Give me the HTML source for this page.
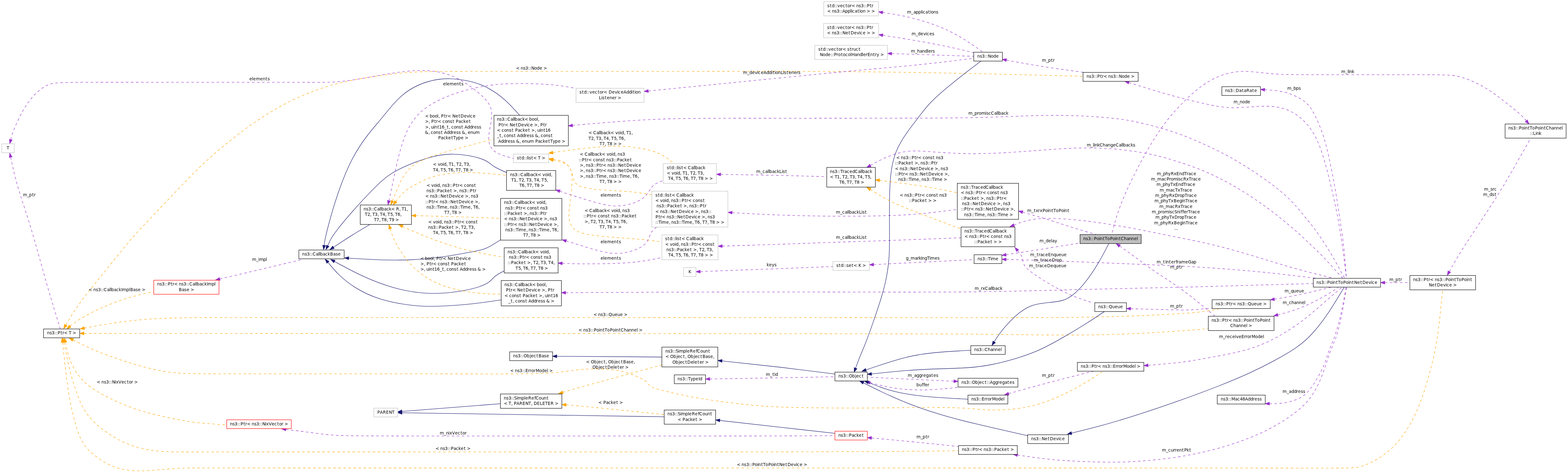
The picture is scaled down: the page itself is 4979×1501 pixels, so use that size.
<!DOCTYPE html>
<html lang="en"><head><meta charset="utf-8"><title>ns3::PointToPointChannel collaboration graph</title><style>
html,body{margin:0;padding:0;background:#fff}
body{width:4979px;height:1501px;overflow:hidden}
svg{display:block;will-change:transform}
text{font-family:'DejaVu Sans','Liberation Sans',sans-serif;font-size:13.333px;fill:#000;white-space:pre}
.b{stroke:#191970}
.p{stroke:#9a32cd;stroke-dasharray:8 8}
.o{stroke:#ffa500;stroke-dasharray:8 8}
.ab{fill:#191970;stroke:#191970}
.ap{fill:#9a32cd;stroke:#9a32cd}
.ao{fill:#ffa500;stroke:#ffa500}
</style></head><body>
<svg width="4979" height="1501" viewBox="0 0 4979 1501">
<rect width="4979" height="1501" fill="#fff"/>
<g fill="none" stroke-width="1.333">
<path class="p" d="M33.9,498.8C38.9,522.4 43.8,546.1 50.5,571.1C57.3,596.1 65.8,622.4 74.9,650.4C84,678.4 93.7,708 106.3,751.5C119,795 134.6,852.5 149.2,903.4C163.9,954.3 177.5,998.7 191.2,1043"/>
<polygon class="ap" points="31,485.8 29.34,499.83 38.45,497.8"/>
<path class="p" d="M34.3,443C35.7,436.3 37.2,429.6 41.5,418.2C45.7,406.9 52.8,390.9 59.5,377.1C66.2,363.3 72.4,351.6 80.5,338.8C88.6,326.1 98.6,312.2 110.4,300C122.3,287.9 136.1,277.4 148.5,271.1C161,264.9 172.3,262.8 212.1,261.9C251.9,260.9 320.4,261 406.4,261C492.5,261.1 596.3,261.1 699.3,261.1C802.4,261.1 904.7,261.1 961.6,261.2C1018.4,261.3 1029.7,261.6 1047.8,260.8C1065.8,260 1090.6,258.1 1122,253.4C1153.5,248.8 1191.7,241.3 1223.1,236C1254.6,230.6 1279.5,227.3 1299.7,225.4C1320,223.6 1335.7,223.1 1351.9,223.9C1368.1,224.6 1384.8,226.7 1401.5,230.5C1418.2,234.4 1435,240.1 1451.9,248.7C1468.9,257.2 1486,268.6 1501.5,280.2C1517,291.8 1530.8,303.6 1541.1,315C1551.5,326.5 1558.4,337.6 1560.5,352.2C1562.6,366.7 1559.9,384.7 1557.3,399.3C1554.7,414 1552.1,425.2 1551.7,436C1551.3,446.7 1553,456.8 1558,465.7C1562.9,474.5 1571.1,482.1 1583.7,488C1596.4,494 1613.5,498.4 1630.6,502.7"/>
<polygon class="ap" points="31,455.9 38.81,444.13 29.76,441.83"/>
<path class="o" d="M222.4,1035.2C227.3,1031.1 232.2,1027 244.2,1019C256.3,1011 275.5,999.1 302.8,986C330.1,972.9 365.4,958.7 397.7,948.3C429.9,938 459.1,931.6 488.3,925.2"/>
<polygon class="ao" points="212,1043.5 225.34,1038.87 219.54,1031.56"/>
<path class="o" d="M208.9,1031.5C210.6,1028.7 212.2,1025.8 217,1017.8C221.8,1009.8 229.8,996.6 240.1,981.2C250.5,965.7 263.3,947.9 282,924.4C300.6,900.8 325,871.5 348.7,842.1C372.4,812.7 395.3,783.3 419.4,755.7C443.5,728 468.9,702 503.3,665.8C537.8,629.6 581.4,583.2 614.8,549.6C648.3,516.1 671.6,495.5 696.2,474.9C720.7,454.3 746.6,433.7 767.7,417.7C788.9,401.7 805.4,390.2 825.7,376.9C846,363.6 870,348.5 894.6,335.2C919.2,321.8 944.4,310.3 969.4,299.8C994.5,289.4 1019.4,280.1 1044.4,272.7C1069.4,265.2 1094.3,259.6 1118.6,254.8C1142.9,250 1166.5,246.1 1196.9,241.7C1227.4,237.4 1264.7,232.6 1297.9,230C1331,227.4 1360,227 1422.6,226.8C1485.2,226.6 1581.3,226.6 1716.9,226.7C1852.5,226.7 2027.5,226.7 2195.8,226.6C2364.2,226.4 2525.8,226.1 2678.7,227.3C2831.5,228.5 2975.6,231.1 3078.9,233.3C3182.2,235.4 3244.7,237.1 3297.9,238.5C3351.2,239.9 3395.1,241 3439,242.1"/>
<polygon class="ao" points="202.2,1043 212.96,1033.85 204.89,1029.13"/>
<path class="o" d="M267.7,1041.2C294.2,1036.2 320.7,1031.3 351,1026.6C381.3,1021.9 415.3,1017.6 449,1014.6C482.6,1011.7 516,1010.2 546.9,1009.2C577.8,1008.3 606.2,1007.9 674.2,1007.7C742.2,1007.5 849.7,1007.6 1077.3,1007.6C1304.8,1007.6 1652.4,1007.6 2000.4,1007.7C2348.3,1007.8 2696.7,1008 2933,1008.1C3169.4,1008.2 3293.9,1008.1 3387.3,1007.2C3480.8,1006.3 3543.2,1004.6 3599.3,1002.5C3655.4,1000.4 3705.2,998 3741.4,995.7C3777.5,993.5 3800.1,991.4 3819.2,988.9C3838.4,986.4 3854.1,983.5 3869.8,980.6"/>
<polygon class="ao" points="254.6,1043.5 268.54,1045.76 266.9,1036.57"/>
<path class="o" d="M266.4,1058C499.9,1058.1 733.3,1058.2 1026.4,1058.3C1319.5,1058.3 1672.2,1058.4 1983.6,1058.6C2295.1,1058.8 2565.1,1059.2 2744.3,1059.4C2923.5,1059.5 3011.8,1059.6 3107.9,1060.5C3204.1,1061.4 3308.1,1063.3 3392.3,1063.3C3476.6,1063.2 3541.1,1061.4 3598.3,1058.8C3655.4,1056.3 3705,1053 3743.6,1050.3C3782.1,1047.5 3809.4,1045.3 3836.8,1043"/>
<polygon class="ao" points="253.1,1058 266.43,1062.68 266.43,1053.34"/>
<path class="o" d="M231.7,1078.8C255.1,1090.2 278.5,1101.7 298.1,1110.2C317.7,1118.8 333.6,1124.4 349.1,1130.1C364.5,1135.7 379.6,1141.3 405.1,1149.3C430.5,1157.2 466.5,1167.5 496.4,1173.9C526.4,1180.2 550.3,1182.8 572.7,1184.2C595.2,1185.7 616.1,1186.1 684,1186.3C751.9,1186.5 866.7,1186.4 1014.4,1186.4C1162,1186.4 1342.6,1186.4 1467.1,1186.5C1591.6,1186.6 1660.1,1186.8 1706.7,1185.4C1753.3,1183.9 1778,1180.9 1799.5,1178C1821.1,1175.2 1839.6,1172.5 1862.2,1171.4C1884.8,1170.2 1911.4,1170.6 1932.6,1172.2C1953.8,1173.7 1969.6,1176.5 1985.3,1181.1C2001,1185.6 2016.5,1192 2027.8,1197.1C2039.2,1202.2 2046.3,1206 2051.3,1211C2056.3,1215.9 2059.1,1222.1 2067.7,1227C2076.2,1232 2090.6,1235.7 2114.1,1241.5C2137.7,1247.3 2170.5,1255.2 2213.5,1262.6C2256.5,1270.1 2309.7,1277 2353.9,1282C2398,1287.1 2433.2,1290.2 2495.3,1292.2C2557.5,1294.2 2646.6,1295 2725,1294.8C2803.4,1294.7 2871.1,1293.5 2920.6,1293.1C2970.1,1292.7 3001.4,1293 3028.8,1293.9C3056.1,1294.8 3079.4,1296.2 3098.3,1297.8C3117.3,1299.4 3132.1,1301 3152.4,1301.3C3172.8,1301.5 3198.8,1300.3 3224.3,1297.3C3249.8,1294.2 3274.7,1289.4 3299.7,1281.9C3324.7,1274.4 3349.6,1264.2 3375.1,1252.1C3400.6,1240 3426.6,1225.9 3447.4,1213.6C3468.2,1201.4 3483.8,1190.9 3499.4,1180.4"/>
<polygon class="ao" points="219.7,1073 229.69,1082.98 233.74,1074.57"/>
<path class="o" d="M207.9,1086C211.1,1103.2 214.3,1120.4 220.8,1138.5C227.3,1156.5 237.2,1175.3 250,1191.9C262.7,1208.5 278.3,1222.9 303.7,1238.9C329.1,1254.9 364.3,1272.5 398.5,1286.2C432.7,1299.8 466,1309.4 500.1,1317.5C534.1,1325.6 568.9,1332.3 593.2,1336.3C617.5,1340.3 631.3,1341.6 650.7,1343.3C670.1,1344.9 695,1346.8 719.9,1348.7"/>
<polygon class="ao" points="205,1073 203.39,1087.03 212.5,1084.97"/>
<path class="o" d="M202.8,1086C204.9,1095.6 206.9,1105.2 210.4,1122C213.8,1138.9 218.6,1163.1 225.4,1188.3C232.2,1213.5 240.9,1239.7 248.9,1260.6C256.9,1281.5 264.2,1297.1 276.2,1313.3C288.1,1329.5 304.7,1346.4 326.1,1362.7C347.4,1379 373.4,1394.8 398.9,1406C424.4,1417.2 449.3,1423.8 473.8,1427.8C498.3,1431.8 522.2,1433.3 548.7,1433.9C575.1,1434.5 603.9,1434.2 707.7,1434.1C811.5,1434 990.3,1434 1219.6,1434C1448.9,1434.1 1728.9,1434.2 1994.6,1434.2C2260.2,1434.1 2511.7,1433.9 2684.2,1433.3C2856.7,1432.6 2950.2,1431.6 3043.7,1430.5"/>
<polygon class="ao" points="200,1073 198.24,1087.01 207.37,1085.05"/>
<path class="o" d="M198.7,1086.2C199.7,1095.7 200.8,1105.2 202.5,1121.6C204.2,1137.9 206.5,1161 210.1,1190.1C213.7,1219.1 218.6,1254 225.4,1287C232.2,1320 240.9,1351.1 248.9,1373.5C256.9,1395.9 264.2,1409.5 276.7,1423.2C289.2,1436.9 306.8,1450.7 323.8,1461.6C340.7,1472.5 356.9,1480.4 375.1,1485.7C393.3,1491 413.5,1493.7 434.3,1494.3C455.1,1494.8 476.6,1493.3 500,1491.3C523.5,1489.4 548.8,1487 571.7,1485.9C594.6,1484.8 615,1484.9 757.8,1484.9C900.6,1485 1165.8,1485 1566.1,1485C1966.5,1485.1 2502,1485.1 2966.2,1485.2C3430.4,1485.3 3823.3,1485.3 4033.5,1485.5C4243.6,1485.6 4270.9,1485.8 4289.8,1484.8C4308.7,1483.9 4319,1481.8 4332.8,1476.5C4346.6,1471.2 4363.7,1462.8 4380.6,1452.2C4397.5,1441.7 4414.2,1429 4431.1,1410.6C4448.1,1392.2 4465.4,1368.1 4479.7,1342.6C4494.1,1317.1 4505.5,1290.3 4515.4,1262.2C4525.2,1234.1 4533.5,1204.7 4540.3,1180.2C4547,1155.7 4552.3,1136 4557.2,1110.6C4562.1,1085.1 4566.5,1054 4570.4,1021.4C4574.2,988.8 4577.4,954.7 4580.6,920.7"/>
<polygon class="ao" points="197.2,1073 194.03,1086.76 203.31,1085.73"/>
<path class="p" d="M697.9,885.3C737.9,875.9 777.9,866.6 820.9,856.5C863.8,846.3 909.7,835.4 955.5,824.4"/>
<polygon class="ap" points="684.9,888.3 698.94,889.81 696.82,880.72"/>
<path class="b" d="M1058.9,784.7C1079.2,771.4 1099.6,758 1118.8,745.9C1138.1,733.9 1156.1,723.2 1174.2,712.5"/>
<polygon class="ab" points="1047.7,792 1061.42,788.64 1056.32,780.81"/>
<path class="b" d="M1040.6,779.9C1043.5,773.3 1046.4,766.6 1050.7,758.8C1055.1,751 1060.9,742 1072.1,727.6C1083.2,713.1 1099.7,693.1 1121.4,668.7C1143.1,644.2 1170.1,615.3 1190.6,594.9C1211.1,574.4 1225.2,562.3 1242.2,551.3C1259.2,540.4 1279.3,530.5 1302.5,521.1C1325.7,511.7 1352,502.8 1374.8,497.1C1397.6,491.5 1416.8,489.1 1437.8,489.3C1458.9,489.5 1481.6,492.3 1500.6,496.4C1519.5,500.4 1534.6,505.7 1544.7,511.3C1554.8,516.8 1559.8,522.7 1569.7,528.9C1579.5,535 1594.1,541.4 1608.8,547.8"/>
<polygon class="ab" points="1035,792 1044.87,781.9 1036.41,777.95"/>
<path class="b" d="M1029.3,778.8C1029.9,773 1030.5,767.3 1033.6,753.1C1036.7,739 1042.3,716.4 1050.1,688.7C1057.9,661.1 1068,628.4 1079.7,595.8C1091.4,563.2 1104.7,530.8 1120,502.1C1135.2,473.3 1152.4,448.4 1168.5,427.5C1184.7,406.6 1199.9,389.8 1217.3,368.6C1234.8,347.5 1254.4,322.1 1277.2,302.7C1299.9,283.3 1325.7,269.9 1351.1,261.5C1376.5,253 1401.5,249.4 1427.1,249.8C1452.7,250.3 1478.9,254.7 1499.8,260.1C1520.7,265.6 1536.4,272 1552.7,281.1C1568.9,290.1 1585.8,301.8 1602.1,316.3C1618.4,330.9 1634.2,348.2 1650,365.6"/>
<polygon class="ab" points="1027.6,792 1033.95,779.39 1024.69,778.18"/>
<path class="b" d="M1107.2,819.2C1138.1,821.2 1169,823.1 1201.4,824.3C1233.7,825.5 1267.5,825.8 1301,824.5C1334.6,823.1 1368.1,820.1 1402.3,815.4C1436.5,810.6 1471.5,804.2 1495.3,799.8C1519.1,795.4 1531.7,793 1545.6,786.8C1559.5,780.7 1574.6,770.7 1589.8,760.8"/>
<polygon class="ab" points="1093.9,818.5 1106.95,823.91 1107.47,814.58"/>
<path class="b" d="M1062,829.7C1091,845.6 1120.1,861.4 1151.6,875.9C1183.1,890.3 1217,903.4 1250.8,912.9C1284.5,922.4 1317.9,928.3 1351.5,930.3C1385,932.3 1418.7,930.5 1452.1,925.4C1485.5,920.4 1518.6,912.2 1537.5,903.7C1556.3,895.3 1560.9,886.6 1569.1,879.2C1577.3,871.9 1589,865.8 1600.8,859.7"/>
<polygon class="ab" points="1050.2,823.5 1059.83,833.83 1064.17,825.56"/>
<path class="b" d="M1041.4,832.5C1052,845.4 1062.6,858.2 1076,871.4C1089.4,884.5 1105.6,898.1 1127.1,911.6C1148.6,925.2 1175.4,938.7 1208.3,948.9C1241.2,959 1280.2,965.8 1310.9,969.2C1341.7,972.6 1364.2,972.6 1392.6,971.6C1420.9,970.7 1455.2,968.7 1489.2,965.2C1523.3,961.7 1557.1,956.7 1591,951.7"/>
<polygon class="ab" points="1032.6,822.5 1037.88,835.6 1044.9,829.44"/>
<path class="p" d="M1234.9,637C1237.8,624 1240.8,611 1244.1,594.8C1247.5,578.6 1251.4,559.3 1257.4,532.5C1263.4,505.7 1271.6,471.4 1281.5,443.5C1291.5,415.7 1303.2,394.1 1316.4,377C1329.6,359.9 1344.2,347.2 1362.6,335.4C1381,323.6 1403.2,312.6 1427,303.4C1450.9,294.1 1476.4,286.6 1501.7,280.7C1527.1,274.9 1552.3,270.7 1576.5,268.3C1600.6,265.9 1623.8,265.3 1653.2,265.3C1682.5,265.3 1718,265.9 1748.4,268.6C1778.7,271.2 1803.9,275.9 1829.1,280.6"/>
<polygon class="ap" points="1232,650 1239.46,638 1230.34,635.97"/>
<path class="o" d="M1246,637.7C1252.7,621.4 1259.3,605.1 1265.6,590.7C1271.9,576.3 1277.7,563.8 1287,551.1C1296.4,538.3 1309.1,525.4 1328.3,514.5C1347.4,503.7 1372.9,494.9 1403.6,485.7C1434.3,476.5 1470.2,466.9 1498.6,459.3C1527,451.8 1547.8,446.4 1568.7,440.9"/>
<polygon class="ao" points="1240.9,650 1250.35,639.5 1241.74,635.9"/>
<path class="o" d="M1256.9,639.7C1264.8,629.5 1272.6,619.3 1281,611.1C1289.5,603 1298.7,597 1314.5,588.3C1330.3,579.5 1352.8,567.9 1376.8,560.5C1400.7,553 1426.2,549.7 1451.4,548.3C1476.6,546.8 1501.5,547.4 1527.4,549.1C1553.4,550.8 1580.3,553.6 1607.3,556.4"/>
<polygon class="ao" points="1248.5,650 1260.56,642.65 1253.33,636.73"/>
<path class="o" d="M1320,684.4C1346.4,685 1372.8,685.7 1403.3,686.6C1433.9,687.4 1468.7,688.4 1500.5,689.5C1532.2,690.6 1561,691.8 1589.8,693"/>
<polygon class="ao" points="1306.7,684 1319.9,689.02 1320.15,679.68"/>
<path class="o" d="M1278.2,718.5C1301.5,729.1 1324.7,739.7 1353.7,751.2C1382.6,762.7 1417.1,775.1 1451.9,785C1486.7,794.9 1521.7,802.4 1546.6,807.1C1571.4,811.9 1586.1,814 1600.8,816"/>
<polygon class="ao" points="1266,713.1 1276.32,722.75 1280.08,714.2"/>
<path class="o" d="M1239.2,725.7C1242.4,736.8 1245.6,747.9 1252.3,762.1C1259,776.3 1269.1,793.7 1281.4,810.8C1293.7,827.9 1308.1,844.9 1328,861.2C1347.8,877.6 1373.1,893.4 1403.2,904.9C1433.4,916.4 1468.4,923.8 1500.3,927.9C1532.2,932 1561,933 1589.8,933.9"/>
<polygon class="ao" points="1234.9,713.1 1234.74,727.22 1243.59,724.24"/>
<path class="o" d="M1755.4,484.2C1769,482.1 1782.7,480.1 1807.5,476.9C1832.4,473.6 1868.5,469.3 1898.5,466.6C1928.6,463.9 1952.6,462.9 1977.7,464.2C2002.7,465.5 2028.9,469.1 2050.1,473.7C2071.2,478.4 2087.4,484.1 2101.6,491.8C2115.8,499.5 2127.9,509.3 2140,519"/>
<polygon class="ao" points="1742.2,486.1 1756.06,488.81 1754.72,479.57"/>
<path class="o" d="M1756.4,505.7C1762.7,506.3 1768.9,506.9 1776.6,509.2C1784.2,511.5 1793.2,515.6 1800.2,522C1807.1,528.4 1812,537.1 1815.4,546.6C1818.7,556 1820.5,566.2 1824,574.1C1827.5,582 1832.7,587.6 1845.1,592.1C1857.5,596.5 1877.2,599.9 1905.2,602.2C1933.1,604.5 1969.4,605.8 1998.2,608.2C2027.1,610.7 2048.4,614.3 2069.7,618"/>
<polygon class="ao" points="1743.2,503.7 1755.67,510.33 1757.08,501.1"/>
<path class="o" d="M1756.2,508.1C1764.4,509.7 1772.6,511.3 1781.2,513.8C1789.8,516.4 1798.7,519.9 1805.3,527.4C1811.8,534.9 1816.1,546.3 1816.6,565.5C1817.1,584.6 1813.9,611.4 1811.2,633C1808.5,654.6 1806.3,671 1806.7,685C1807,699 1809.9,710.6 1816.9,720C1823.9,729.5 1835,736.8 1858.1,742.1C1881.3,747.3 1916.4,750.4 1951.5,753.2C1986.5,755.9 2021.6,758.4 2046.7,760.8C2071.8,763.3 2086.9,765.8 2102.1,768.3"/>
<polygon class="ao" points="1743.2,505.2 1755.18,512.69 1757.23,503.58"/>
<path class="p" d="M1777.5,606.8C1792.6,611.8 1807.7,616.9 1828.9,623.5C1850.1,630.2 1877.3,638.6 1898.7,644.3C1920.1,650.1 1935.8,653.2 1952.2,653.6C1968.6,654 1985.8,651.6 2001.3,647.4C2016.8,643.2 2030.6,637.2 2040.5,629.8C2050.5,622.4 2056.6,613.5 2061.7,605.6C2066.8,597.8 2071,590.9 2078.3,585.7C2085.5,580.4 2095.8,576.7 2106,573"/>
<polygon class="ap" points="1764.8,602.7 1776.02,611.27 1778.92,602.39"/>
<path class="p" d="M1797.7,764.7C1815.6,770.1 1833.6,775.6 1850.9,780.9C1868.2,786.3 1884.8,791.5 1901.5,795.7C1918.1,800 1934.8,803.4 1951.6,804C1968.4,804.6 1985.4,802.3 2001.9,797.7C2018.4,793.1 2034.4,786.2 2044.5,777.8C2054.5,769.4 2058.6,759.6 2062.1,751.3C2065.7,742.9 2068.7,736.1 2072.3,731.5C2076,726.8 2080.2,724.2 2084.5,721.6"/>
<polygon class="ap" points="1784.9,760.8 1796.3,769.14 1799.01,760.2"/>
<path class="p" d="M1785.2,835.5C1805.8,836.4 1826.4,837.2 1854.6,837.4C1882.9,837.5 1918.7,837 1948.8,836C1978.9,835 2003.2,833.5 2026.9,830.5C2050.7,827.4 2073.9,823 2097.1,818.5"/>
<polygon class="ap" points="1771.9,835.1 1785.08,840.19 1785.37,830.85"/>
<path class="p" d="M1818,398.1C1843.5,395.8 1868.9,393.4 1907.9,390.2C1947,387 1999.5,382.9 2048.3,380.3C2097.2,377.6 2142.3,376.3 2214.9,375.7C2287.4,375.1 2387.4,375.3 2509.3,375.3C2631.1,375.3 2774.9,375.2 2878.1,375C2981.3,374.7 3043.8,374.3 3100,373C3156.2,371.8 3206.1,369.7 3246.7,368.3C3287.2,366.9 3318.4,366.2 3350.7,366.2C3382.9,366.2 3416.2,366.9 3450.2,368.8C3484.2,370.6 3518.9,373.6 3545.6,376.7C3572.3,379.8 3590.9,382.9 3618.8,389.2C3646.6,395.5 3683.7,405 3718.7,416.4C3753.8,427.8 3786.9,441.2 3820,456.2C3853.2,471.1 3886.4,487.5 3920.2,506.9C3954,526.4 3988.4,548.9 4017.8,569.8C4047.3,590.7 4071.8,610.1 4094.1,632C4116.3,654 4136.2,678.6 4150.4,696.3C4164.7,714 4173.2,724.8 4181.8,736.7C4190.3,748.5 4198.7,761.4 4207.4,774.8C4216,788.2 4224.8,802.2 4232.6,815.7C4240.5,829.3 4247.3,842.4 4253.4,853.6C4259.5,864.8 4264.9,874.1 4270.3,883.3"/>
<polygon class="ap" points="1804.7,399.3 1818.39,402.77 1817.56,393.47"/>
<path class="p" d="M1796,928.8C1927.3,928 2058.6,927.2 2211.3,926.9C2364,926.5 2538.2,926.6 2691.9,926.8C2845.7,927 2979.1,927.3 3092.7,926.1C3206.2,924.8 3299.8,922 3408.5,919.3C3517.1,916.6 3640.7,914 3726.8,912C3812.8,910 3861.3,908.5 3929,906.6C3996.7,904.6 4083.5,902.2 4170.3,899.8"/>
<polygon class="ap" points="1782.7,928.9 1796.05,933.5 1796.01,924.16"/>
<path class="p" d="M2058.5,288.8C2205.5,274.2 2352.6,259.7 2455.1,249.5C2557.6,239.3 2615.5,233.4 2688.9,226.6C2762.3,219.8 2851.1,212.1 2920.9,205C2990.7,197.8 3041.4,191.3 3092.1,184.7"/>
<polygon class="ap" points="2045.2,290.1 2058.92,293.44 2058.01,284.14"/>
<path class="b" d="M1768,1130.6L2101.6,1133"/>
<polygon class="ab" points="1754.7,1130.5 1768,1135.27 1768.06,1125.93"/>
<path class="o" d="M1787,1245.2C1808.1,1238.9 1829.3,1232.6 1881.7,1218.1C1934.1,1203.6 2017.9,1180.8 2101.6,1158"/>
<polygon class="ao" points="1774.2,1249 1788.31,1249.72 1785.67,1240.76"/>
<path class="o" d="M1797.5,1284.8C1816.4,1286.4 1835.3,1288 1866.5,1290.9C1897.7,1293.9 1941.3,1298.3 1983.8,1302.6C2026.3,1307 2067.7,1311.3 2109.1,1315.7"/>
<polygon class="ao" points="1784.2,1283.7 1797.08,1289.49 1797.88,1280.19"/>
<path class="b" d="M1276.3,1305.7L1589,1281.2"/>
<polygon class="ab" points="1263,1306.7 1276.65,1310.32 1275.93,1301"/>
<path class="b" d="M1276.3,1309.9C1479.8,1313 1683.3,1316 1822.1,1318.2C1960.9,1320.3 2035,1321.5 2109.1,1322.7"/>
<polygon class="ab" points="1263,1309.7 1276.26,1314.57 1276.4,1305.23"/>
<path class="b" d="M2292.7,1145.4C2355.8,1152 2418.9,1158.6 2478.7,1165.5C2538.4,1172.4 2594.8,1179.7 2651.2,1186.9"/>
<polygon class="ab" points="2279.4,1144 2292.16,1150.06 2293.15,1140.77"/>
<path class="p" d="M2253.7,1202.7C2331.4,1201.4 2409.2,1200.1 2475.4,1198.9C2541.7,1197.7 2596.4,1196.6 2651.2,1195.4"/>
<polygon class="ap" points="2240.4,1202.9 2253.81,1207.35 2253.65,1198.01"/>
<path class="b" d="M2285.6,1334.2C2351.4,1341.6 2417.1,1349 2478.1,1355.9C2539,1362.7 2595.1,1368.9 2651.2,1375.1"/>
<polygon class="ab" points="2272.4,1332.7 2285.12,1338.83 2286.17,1329.55"/>
<path class="p" d="M907.8,1362.7C927.8,1365.1 947.8,1367.4 970.6,1370.5C993.4,1373.5 1018.9,1377.2 1042.1,1379.5C1065.4,1381.8 1086.4,1382.8 1172.2,1383.2C1258,1383.7 1408.5,1383.6 1641.6,1383.6C1874.7,1383.6 2190.3,1383.6 2372.3,1383.5C2554.3,1383.3 2602.8,1382.9 2651.2,1382.6"/>
<polygon class="ap" points="894.6,1361.1 907.28,1367.33 908.39,1358.05"/>
<path class="p" d="M2288.2,553.4C2354.1,554.5 2420,555.5 2476.1,556.8C2532.2,558 2578.6,559.3 2625,560.7"/>
<polygon class="ap" points="2274.9,553.2 2288.15,558.1 2288.31,548.76"/>
<path class="p" d="M2324.6,674.7C2374.6,677.7 2424.5,680.6 2484.7,682.7C2545,684.8 2615.4,686 2675.7,686.2C2735.9,686.3 2785.8,685.4 2826.2,684C2866.5,682.6 2897.2,680.8 2931.2,677.5C2965.2,674.1 3002.5,669.4 3039.7,664.6"/>
<polygon class="ap" points="2311.3,674 2324.36,679.37 2324.86,670.05"/>
<path class="p" d="M2293.2,781C2357,779 2420.8,777 2475.9,775.1C2530.9,773.2 2577.2,771.4 2634.3,769.4C2691.3,767.5 2759,765.4 2830.3,762.9C2901.7,760.3 2976.6,757.4 3051.6,754.5"/>
<polygon class="ap" points="2279.9,781.4 2293.37,785.64 2293.07,776.31"/>
<path class="p" d="M2223.3,861.8C2312.6,858.5 2401.8,855.2 2472.1,852.6C2542.3,849.9 2593.6,847.8 2644.8,845.8"/>
<polygon class="ap" points="2210,862.3 2223.49,866.47 2223.15,857.14"/>
<path class="p" d="M2773.9,839.7C2825.4,837.1 2876.8,834.5 2930,831.9C2983.2,829.2 3038.1,826.6 3093.1,823.9"/>
<polygon class="ap" points="2760.6,840.4 2774.15,844.39 2773.68,835.07"/>
<path class="p" d="M2802.6,39.6C2827.3,43.1 2851.9,46.7 2881.9,53.7C2911.8,60.7 2947.1,71.1 2976.9,82.5C3006.7,94 3031,106.5 3053.8,120.2C3076.6,133.9 3097.8,148.9 3119,163.8"/>
<polygon class="ap" points="2789.5,37.4 2801.88,44.2 2803.42,34.99"/>
<path class="p" d="M2803.2,111.9C2846.3,118.7 2889.4,125.5 2927.8,132.4C2966.3,139.2 2999.9,146 3026.5,151.9C3053.1,157.7 3072.6,162.5 3092.1,167.3"/>
<polygon class="ap" points="2790,109.8 2802.41,116.54 2803.9,107.32"/>
<path class="p" d="M2831.3,170.1C2861.5,171.1 2891.8,172 2935.2,173.4C2978.7,174.9 3035.4,176.8 3092.1,178.7"/>
<polygon class="ap" points="2818,169.7 2831.18,174.79 2831.47,165.45"/>
<path class="b" d="M2716.8,1168.4C2721.4,1155.8 2726,1143.2 2731.3,1130.1C2736.7,1117 2742.7,1103.3 2750.1,1084.4C2757.4,1065.5 2766,1041.4 2774.7,1016.4C2783.3,991.4 2792,965.6 2798.8,943.2C2805.6,920.7 2810.4,901.6 2814.4,881.3C2818.3,861 2821.4,839.6 2823,817.1C2824.5,794.6 2824.6,771 2824.5,737.1C2824.4,703.3 2824.2,659.3 2824.8,625.4C2825.4,591.6 2826.8,568 2829.8,545.5C2832.8,523 2837.4,501.6 2845.9,480.8C2854.3,460 2866.6,439.8 2879.4,421.6C2892.2,403.3 2905.4,386.9 2917.3,371.4C2929.1,355.9 2939.5,341.2 2957.7,322.7C2975.9,304.3 3001.9,282 3029.4,259.9C3056.9,237.7 3085.9,215.7 3115,193.7"/>
<polygon class="ab" points="2712.2,1180.9 2721.22,1170.03 2712.46,1166.78"/>
<path class="b" d="M2749.7,1173.9C2794.2,1158.8 2838.6,1143.6 2876.8,1134.2C2915,1124.7 2947,1120.9 2980.2,1118C3013.5,1115.2 3048,1113.3 3082.6,1111.4"/>
<polygon class="ab" points="2737,1178 2751.12,1178.35 2748.25,1169.46"/>
<path class="b" d="M2767.4,1186.6C2805.2,1182.6 2843.1,1178.6 2878.4,1175.9C2913.7,1173.2 2946.5,1171.7 2980.1,1170.5C3013.8,1169.4 3048.3,1168.5 3076.6,1166.5C3104.9,1164.5 3127.2,1161.2 3150.8,1156.5C3174.5,1151.7 3199.7,1145.3 3224.7,1137.8C3249.8,1130.3 3274.7,1121.7 3299.7,1110.6C3324.7,1099.4 3349.6,1085.8 3375,1071.2C3400.3,1056.7 3426,1041.2 3448,1027.3C3470.1,1013.4 3488.5,1001 3506.9,988.6"/>
<polygon class="ab" points="2754.1,1187.9 2767.83,1191.22 2766.9,1181.93"/>
<path class="p" d="M3028.9,1209.8L2754.1,1196.9"/>
<polygon class="ap" points="3042.2,1210.4 3029.1,1205.11 3028.67,1214.44"/>
<path class="p" d="M2762.6,1214.5C2784.5,1220.1 2806.5,1225.7 2830.2,1229.8C2853.8,1233.9 2879.1,1236.5 2904.3,1237.2C2929.6,1238 2954.8,1236.9 2978.9,1235.2C3003,1233.5 3026.1,1231.1 3049.2,1228.8"/>
<polygon class="ap" points="2749.6,1211.4 2761.5,1219.01 2763.65,1209.92"/>
<path class="b" d="M2757.1,1213.5C2780.1,1222.8 2803.1,1232.1 2830.9,1239.7C2858.6,1247.3 2891.2,1253.1 2932.4,1257.3C2973.7,1261.5 3023.6,1264.2 3073.6,1266.8"/>
<polygon class="ab" points="2744.6,1208.9 2755.48,1217.9 2758.72,1209.14"/>
<path class="b" d="M2741.6,1214.8C2770.4,1229.2 2799.2,1243.7 2830.5,1257.7C2861.8,1271.8 2895.5,1285.4 2929.7,1297.2C2963.8,1309 2998.3,1319.2 3026.7,1326.9C3055.1,1334.5 3077.3,1339.8 3100.7,1345.3C3124.1,1350.8 3148.6,1356.6 3175.9,1362.8C3203.2,1369.1 3233.3,1375.8 3263.3,1382.6"/>
<polygon class="ab" points="2729.6,1208.9 2739.52,1218.95 2743.63,1210.57"/>
<path class="p" d="M2767.4,1389.8C2813,1394 2858.5,1398.2 2904.6,1402.7C2950.6,1407.3 2997.2,1412.1 3043.7,1417"/>
<polygon class="ap" points="2754.1,1388.6 2766.94,1394.49 2767.81,1385.19"/>
<path class="o" d="M2792.8,572.4C2821.1,575.8 2849.4,579.2 2881.3,583.7C2913.1,588.2 2948.5,593.9 2975.4,598.8C3002.4,603.6 3021.1,607.6 3039.7,611.6"/>
<polygon class="ao" points="2779.6,570.7 2792.25,576.99 2793.41,567.72"/>
<path class="o" d="M2763.5,601.1C2784.1,614.2 2804.7,627.4 2831.9,640.5C2859,653.6 2892.7,666.7 2930.5,681C2968.2,695.3 3009.9,710.9 3051.6,726.5"/>
<polygon class="ao" points="2752.1,594.2 2761.13,605.06 2765.93,597.05"/>
<path class="p" d="M2763.9,525C2777,517.6 2790.2,510.3 2805.3,503.3C2820.4,496.4 2837.4,489.8 2853.7,485.5C2870,481.2 2885.7,479 2905.6,479C2925.5,479 2949.7,481.1 2982.3,483.4C3014.8,485.7 3055.6,488.1 3102.6,487.7C3149.6,487.2 3202.8,484 3245,481.1C3287.2,478.1 3318.4,475.5 3350.7,473.4C3382.9,471.2 3416.2,469.5 3449.5,469.3C3482.8,469.2 3516,470.6 3549.9,473.9C3583.8,477.3 3618.3,482.6 3646.2,488.1C3674,493.5 3695.2,499.2 3723,507.7C3750.9,516.1 3785.4,527.4 3819.3,541.4C3853.2,555.4 3886.4,572.1 3920.2,591.7C3954,611.3 3988.4,633.8 4018.1,655.3C4047.8,676.9 4072.9,697.5 4091,712.7C4109.1,727.8 4120.2,737.5 4129.8,746.2C4139.4,755 4147.5,762.9 4155.9,770.9C4164.3,778.9 4172.9,787 4181.5,795.3C4190.1,803.6 4198.6,812.1 4207.3,821.3C4216,830.4 4224.8,840.2 4232.7,849C4240.6,857.8 4247.5,865.7 4252.7,871.3C4257.8,876.9 4261.2,880.1 4264.5,883.3"/>
<polygon class="ap" points="2752.1,531.3 2766.06,529.14 2761.66,520.9"/>
<path class="p" d="M3195.5,190.6C3228.7,196.9 3261.8,203.3 3302.9,209.8C3344,216.3 3393,223 3442,229.7"/>
<polygon class="ap" points="3182.4,188.2 3194.67,195.2 3196.35,186.01"/>
<path class="p" d="M3584.5,262C3605.8,268.7 3627.1,275.3 3649.6,282.2C3672.1,289.1 3695.8,296.2 3720.2,302.9C3744.6,309.6 3769.8,316 3795.3,322.1C3820.9,328.2 3846.9,334.2 3867.7,337.6C3888.5,341 3904.1,341.9 3920.2,341.8C3936.3,341.7 3953,340.6 3969.6,339.4C3986.3,338.2 4002.9,336.8 4019.8,337C4036.7,337.1 4053.7,338.8 4068.8,342.6C4083.8,346.4 4096.9,352.3 4109.2,359.6C4121.5,366.9 4132.9,375.6 4144.7,388.1C4156.5,400.6 4168.5,417 4178.6,437.1C4188.7,457.2 4196.8,481.2 4204.1,505.5C4211.4,529.7 4217.8,554.3 4224.5,582.5C4231.2,610.6 4238.1,642.5 4242.4,662.5C4246.6,682.5 4248.1,690.7 4249.9,701.1C4251.7,711.6 4253.8,724.3 4256.2,739.5C4258.6,754.7 4261.3,772.4 4263.7,790C4266.1,807.7 4268.3,825.2 4270.2,840.8C4272.1,856.3 4273.8,869.8 4275.4,883.3"/>
<polygon class="ap" points="3571.8,258.1 3583.15,266.51 3585.92,257.59"/>
<path class="p" d="M4015.9,284.8C4033.9,285.9 4051.9,286.9 4069.5,290.5C4087.1,294 4104.2,300 4118.5,307.2C4132.9,314.4 4144.5,322.7 4153.3,332C4162,341.3 4167.9,351.5 4175.2,366.1C4182.5,380.7 4191.2,399.6 4198.8,421.5C4206.4,443.3 4212.8,468 4219.5,497.8C4226.1,527.6 4233.1,562.6 4238.7,594.4C4244.3,626.2 4248.6,654.7 4251.2,671.5C4253.7,688.3 4254.4,693.2 4255.8,702.2C4257.2,711.1 4259.2,724.1 4261.3,739.4C4263.5,754.7 4265.7,772.4 4267.6,790C4269.4,807.7 4271,825.2 4272.2,840.8C4273.5,856.3 4274.4,869.8 4275.4,883.3"/>
<polygon class="ap" points="4002.6,283.6 4015.46,289.44 4016.29,280.14"/>
<path class="p" d="M4846.5,383.4C4841.9,377.6 4837.3,371.8 4826.2,362C4815.2,352.1 4797.8,338.1 4780.7,324.8C4763.7,311.4 4747,298.6 4730.4,287.7C4713.8,276.7 4697.1,267.5 4680.3,260C4663.4,252.4 4646.3,246.5 4632.3,242.9C4618.3,239.3 4607.5,238.1 4569.4,237.5C4531.4,237 4466.3,237 4398.8,237.1C4331.3,237.1 4261.4,237.1 4205.1,237.1C4148.9,237.1 4106.3,237 4077.9,236.2C4049.4,235.4 4035.1,233.9 4017.4,231.9C3999.6,230 3978.4,227.6 3961.7,226.7C3945.1,225.9 3933,226.6 3918.5,229.1C3903.9,231.7 3886.8,236 3870,242.7C3853.2,249.5 3836.5,258.6 3819.9,270.3C3803.2,282.1 3786.6,296.4 3769.8,312.3C3753.1,328.3 3736.3,345.8 3720.4,364.5C3704.5,383.2 3689.6,403.1 3673.7,427.4C3657.8,451.6 3641,480.3 3623.9,512C3606.7,543.7 3589.3,578.4 3575.6,609.2C3562,640 3552.2,666.8 3545.3,688.7C3538.4,710.5 3534.4,727.2 3530.4,744"/>
<polygon class="ap" points="4855.2,393.5 4850.03,380.35 4842.96,386.45"/>
<path class="p" d="M4602.2,861.9C4611,845.9 4619.9,829.9 4631,811.5C4642.2,793.2 4655.6,772.5 4677.4,739.5C4699.2,706.4 4729.3,661 4751.9,625.2C4774.5,589.4 4789.7,563.2 4806.3,534.1C4822.9,505 4841.1,473 4859.2,440.9"/>
<polygon class="ap" points="4595.6,873.5 4606.23,864.2 4598.11,859.6"/>
<path class="p" d="M4397.2,896.8L4476.8,896.8"/>
<polygon class="ap" points="4383.9,896.8 4397.23,901.47 4397.23,892.13"/>
<path class="p" d="M3247.1,673.3C3273.1,680.6 3299.1,687.9 3324.4,695.8C3349.7,703.7 3374.3,712.2 3400.1,720.3C3425.8,728.5 3452.6,736.2 3479.4,744"/>
<polygon class="ap" points="3234.3,669.6 3245.83,677.76 3248.4,668.78"/>
<path class="p" d="M3219.8,714.3C3229,710.5 3238.2,706.7 3250.8,702.9C3263.3,699.2 3279.1,695.5 3303.4,693.9C3327.8,692.3 3360.6,692.8 3402.5,696.5C3444.5,700.1 3495.6,706.9 3551.3,716.6C3607,726.2 3667.4,738.6 3712.9,747.8C3758.5,757 3789.2,762.9 3821.2,770.1C3853.2,777.2 3886.4,785.5 3919.7,794.7C3953,804 3986.3,814.2 4019.4,824.3C4052.5,834.5 4085.3,844.5 4120.2,854.1C4155.2,863.7 4192.2,872.7 4229.2,881.8"/>
<polygon class="ap" points="3207.3,719 3221.42,718.67 3218.13,709.93"/>
<path class="p" d="M3231.2,795.3C3236.1,800.5 3241,805.7 3243.9,812.7C3246.8,819.7 3247.7,828.6 3250.3,836.1C3253,843.5 3257.4,849.5 3269.8,859.4C3282.2,869.3 3302.5,883 3325.5,896.9C3348.5,910.7 3374.2,924.6 3399.1,935.5C3423.9,946.3 3448,954 3472,961.7"/>
<polygon class="ap" points="3222.8,785 3227.62,798.28 3234.85,792.36"/>
<path class="p" d="M3194.6,808.4C3228.6,803.1 3262.6,797.8 3301.8,791.6C3340.9,785.4 3385.2,778.2 3429.5,771"/>
<polygon class="ap" points="3181.4,810.4 3195.29,812.97 3193.85,803.74"/>
<path class="p" d="M3194.7,823.3C3244.5,824.7 3294.2,826.1 3353.4,828.2C3412.5,830.3 3480.9,833.1 3549.8,835.9C3618.6,838.7 3687.7,841.6 3740.5,844.1C3793.3,846.7 3829.8,848.9 3873.5,852.1C3917.1,855.3 3967.9,859.4 4019.6,864.7C4071.4,870 4124.1,876.4 4176.8,882.8"/>
<polygon class="ap" points="3181.4,822.9 3194.59,827.96 3194.86,818.63"/>
<path class="b" d="M3157,1084.7C3162.1,1076.1 3167.1,1067.4 3178.4,1053.1C3189.7,1038.8 3207.3,1018.8 3224.3,1003.4C3241.4,987.9 3258.1,977.1 3274.7,970.7C3291.4,964.3 3308,962.4 3325,960.7C3342,958.9 3359.2,957.4 3373.2,953.5C3387.3,949.6 3398.1,943.3 3410.2,933C3422.4,922.7 3436,908.3 3449.6,890.8C3463.2,873.2 3476.8,852.5 3488.7,832.3C3500.6,812.2 3510.8,792.6 3520.9,773"/>
<polygon class="ab" points="3149.9,1096 3160.97,1087.23 3153.08,1082.24"/>
<path class="p" d="M3555.2,780.7C3568.8,790.2 3582.4,799.8 3602.2,814.3C3622,828.8 3648.1,848.3 3673.5,865.5C3698.9,882.8 3723.6,897.9 3748.4,915.6C3773.3,933.4 3798.3,953.9 3816.5,968.8C3834.6,983.8 3846,993.2 3857.3,1002.6"/>
<polygon class="ap" points="3544.3,773 3552.49,784.51 3557.88,776.88"/>
<path class="p" d="M3590.1,979.5C3644.8,981.1 3699.5,982.8 3733.5,983.4C3767.5,984 3780.7,983.5 3796.5,982.4C3812.3,981.2 3830.5,979.4 3848.8,977.6"/>
<polygon class="ap" points="3576.8,979.1 3589.99,984.16 3590.26,974.82"/>
<path class="p" d="M4046.6,949.4C4069.4,945.7 4092.3,942 4122.3,935.7C4152.3,929.4 4189.5,920.5 4226.7,911.7"/>
<polygon class="ap" points="4033.5,951.7 4047.43,954.01 4045.83,944.81"/>
<path class="p" d="M4057.3,999C4077.5,993.9 4097.6,988.9 4120.9,980.1C4144.1,971.4 4170.5,959 4192.4,947.1C4214.3,935.3 4231.7,924 4249.2,912.7"/>
<polygon class="ap" points="4044.5,1002.6 4058.6,1003.5 4056.07,994.5"/>
<path class="p" d="M3645.5,1159.3C3680.9,1156.4 3716.4,1153.6 3744.3,1150.4C3772.2,1147.1 3792.6,1143.3 3829.9,1136.7C3867.2,1130.1 3921.5,1120.7 3964.8,1107.8C4008.1,1094.8 4040.4,1078.3 4068.5,1062C4096.6,1045.7 4120.5,1029.6 4145.5,1009.9C4170.5,990.2 4196.5,966.9 4216.1,949.9C4235.6,933 4248.7,922.3 4261.7,911.7"/>
<polygon class="ap" points="3632.2,1160.4 3645.88,1163.91 3645.08,1154.6"/>
<path class="p" d="M3202.7,1249.2C3242.3,1238.1 3281.9,1226.9 3326.8,1215C3371.7,1203.1 3421.8,1190.5 3472,1177.9"/>
<polygon class="ap" points="3189.9,1252.8 3203.99,1253.73 3201.49,1244.73"/>
<path class="b" d="M3402.5,1374.4C3434.7,1366.5 3466.9,1358.7 3499.2,1349.8C3531.6,1341 3564.1,1331.2 3600.4,1319.8C3636.6,1308.3 3676.5,1295.2 3723,1278.9C3769.6,1262.6 3822.8,1243.2 3865.5,1226.5C3908.3,1209.9 3940.5,1196.1 3968.6,1183.2C3996.6,1170.3 4020.6,1158.3 4045.5,1144.9C4070.5,1131.4 4096.5,1116.5 4117.3,1102C4138.1,1087.4 4153.7,1073.2 4169.8,1055.2C4186,1037.1 4202.6,1015.3 4219.1,990.8C4235.6,966.2 4251.9,939 4268.2,911.7"/>
<polygon class="ab" points="3389.6,1377.6 3403.67,1378.89 3401.4,1369.83"/>
<path class="p" d="M4030.9,1280.9C4043.3,1281.2 4055.7,1281.4 4070.8,1279.5C4085.8,1277.6 4103.5,1273.5 4118,1267.4C4132.5,1261.3 4143.7,1253.3 4154.4,1241.4C4165,1229.5 4175.1,1213.7 4184,1198.2C4192.8,1182.7 4200.5,1167.5 4206,1153.5C4211.5,1139.5 4214.9,1126.6 4220,1112.9C4225.2,1099.2 4232.2,1084.6 4239.1,1064.3C4246.1,1044.1 4252.9,1018.1 4258.8,991.8C4264.6,965.4 4269.4,938.5 4274.2,911.7"/>
<polygon class="ap" points="4017.6,1281.2 4031.02,1285.61 4030.84,1276.27"/>
<path class="p" d="M3230.5,1443.8C3268.9,1449.6 3307.3,1455.4 3353.2,1459.4C3399.1,1463.3 3452.3,1465.4 3494.2,1466.2C3536,1467.1 3566.3,1466.7 3602.5,1464.5C3638.7,1462.3 3680.6,1458.3 3717.8,1453.3C3755,1448.3 3787.5,1442.2 3820.3,1434.7C3853.2,1427.1 3886.4,1418.2 3920.2,1406.8C3954,1395.5 3988.4,1381.9 4017.8,1367.6C4047.2,1353.2 4071.8,1338.3 4094.2,1322.6C4116.6,1306.9 4137,1290.5 4152.8,1272.1C4168.6,1253.7 4179.7,1233.3 4189,1212.7C4198.3,1192.1 4205.6,1171.3 4211,1154.8C4216.4,1138.3 4219.8,1126.1 4225.2,1112.6C4230.6,1099.1 4238,1084.2 4244.6,1064C4251.1,1043.7 4256.7,1018 4261.8,991.7C4266.9,965.4 4271.5,938.6 4276,911.7"/>
<polygon class="ap" points="3217.3,1442 3229.88,1448.42 3231.14,1439.17"/>
</g>
<g stroke-width="1.333">
<rect x="5.5" y="456.5" width="39.5" height="28" fill="#fff" stroke="#bfbfbf"/>
<rect x="138.3" y="1044" width="114.8" height="28" fill="#fff" stroke="#000"/>
<rect x="488.3" y="889.3" width="207.1" height="44.4" fill="#fff" stroke="#f00"/>
<rect x="719.9" y="1332.2" width="205.1" height="27.9" fill="#fff" stroke="#f00"/>
<rect x="949" y="793.4" width="143.8" height="28" fill="#fff" stroke="#000"/>
<rect x="1187.2" y="1295.2" width="75.8" height="28" fill="#fff" stroke="#bfbfbf"/>
<rect x="1143.9" y="650.5" width="162.6" height="61.8" fill="#fff" stroke="#000"/>
<rect x="1568.5" y="366" width="236.2" height="96.9" fill="#fff" stroke="#000"/>
<rect x="1630.6" y="489" width="111.6" height="27.3" fill="#fff" stroke="#bfbfbf"/>
<rect x="1608.4" y="541.2" width="156.3" height="62.9" fill="#fff" stroke="#000"/>
<rect x="1589.5" y="629.6" width="194.7" height="132.4" fill="#fff" stroke="#000"/>
<rect x="1601" y="786.4" width="171.2" height="79.9" fill="#fff" stroke="#000"/>
<rect x="1591.5" y="890.3" width="191.2" height="80.4" fill="#fff" stroke="#000"/>
<rect x="1618.4" y="1116.5" width="136.3" height="28" fill="#fff" stroke="#000"/>
<rect x="1589" y="1250.3" width="195.2" height="45.4" fill="#fff" stroke="#000"/>
<rect x="1829.1" y="280.3" width="216.1" height="44.7" fill="#fff" stroke="#bfbfbf"/>
<rect x="2106.1" y="519.3" width="168.8" height="62.4" fill="#fff" stroke="#bfbfbf"/>
<rect x="2069.7" y="606.6" width="241.6" height="113.9" fill="#fff" stroke="#bfbfbf"/>
<rect x="2101.6" y="745.5" width="178.3" height="78.9" fill="#fff" stroke="#bfbfbf"/>
<rect x="2171" y="849.3" width="39" height="28" fill="#fff" stroke="#bfbfbf"/>
<rect x="2101.6" y="1101.5" width="177.8" height="62.9" fill="#fff" stroke="#000"/>
<rect x="2141.1" y="1189.6" width="99.3" height="28" fill="#fff" stroke="#000"/>
<rect x="2109.1" y="1301.2" width="163.3" height="45" fill="#fff" stroke="#000"/>
<rect x="2615.8" y="5.3" width="173.7" height="45.1" fill="#fff" stroke="#bfbfbf"/>
<rect x="2615.3" y="74.4" width="174.7" height="45.4" fill="#fff" stroke="#bfbfbf"/>
<rect x="2587.3" y="143.8" width="230.7" height="44.9" fill="#fff" stroke="#bfbfbf"/>
<rect x="2625.3" y="531.3" width="154.3" height="62.4" fill="#fff" stroke="#000"/>
<rect x="2644.8" y="829.9" width="115.8" height="27.9" fill="#fff" stroke="#bfbfbf"/>
<rect x="2651.2" y="1180.9" width="102.9" height="28" fill="#fff" stroke="#000"/>
<rect x="2651.2" y="1368.4" width="102.9" height="28" fill="#fff" stroke="#f00"/>
<rect x="3092" y="165.7" width="91" height="28.1" fill="#fff" stroke="#000"/>
<rect x="3039.7" y="581.7" width="194.6" height="114.3" fill="#fff" stroke="#000"/>
<rect x="3051.6" y="720.5" width="171.2" height="62.4" fill="#fff" stroke="#000"/>
<rect x="3093.1" y="808.4" width="88.3" height="28" fill="#fff" stroke="#000"/>
<rect x="3082.6" y="1097" width="109.3" height="27.6" fill="#fff" stroke="#000"/>
<rect x="3042.2" y="1200.4" width="190.1" height="27.9" fill="#fff" stroke="#000"/>
<rect x="3073.6" y="1253.8" width="126.7" height="27.9" fill="#fff" stroke="#000"/>
<rect x="3043.7" y="1414" width="186.6" height="28" fill="#fff" stroke="#000"/>
<rect x="3439" y="229.7" width="175.2" height="28.4" fill="#fff" stroke="#000"/>
<rect x="3429.5" y="744.3" width="194.2" height="28.6" fill="#bfbfbf" stroke="#000"/>
<rect x="3476.4" y="960.7" width="100.4" height="27.9" fill="#fff" stroke="#000"/>
<rect x="3421" y="1150" width="211.2" height="27.9" fill="#fff" stroke="#000"/>
<rect x="3263.3" y="1379.6" width="129.3" height="28" fill="#fff" stroke="#000"/>
<rect x="3879.8" y="275.1" width="122.8" height="27.9" fill="#fff" stroke="#000"/>
<rect x="3848.8" y="951.2" width="184.7" height="27.9" fill="#fff" stroke="#000"/>
<rect x="3836.8" y="1003.6" width="208.7" height="45.4" fill="#fff" stroke="#000"/>
<rect x="3865.3" y="1253.8" width="152.3" height="28.4" fill="#fff" stroke="#000"/>
<rect x="4170.3" y="883.3" width="213.6" height="27.9" fill="#fff" stroke="#000"/>
<rect x="4476.8" y="874.3" width="208.7" height="45.4" fill="#fff" stroke="#000"/>
<rect x="4779.3" y="393.5" width="193.7" height="44.9" fill="#fff" stroke="#000"/>
</g>
<g class="t">
<text x="21.2" y="473.9">T</text>
<text x="149.4 157.7 164.5 172.9 177.9 183.3 192.6 198.4 203.6 214.7 218.6 226.7 230.6" y="1061.4">ns3::Ptr&lt; T &gt;</text>
<text x="499.1 507.3 514.1 522.6 527.6 532.9 542.2 548 553.3 564.4 568.1 576.3 583.1 591.6 596.6 601.2 611.5 619 622 624.9 633.5 641.2 648.9 656.9 660.3 672.9 681" y="906.2">ns3::Ptr&lt; ns3::CallbackImpl</text>
<text x="568.1 577.5 585.3 592.7 601.4 605.3" y="923.6">Base &gt;</text>
<text x="730.2 738.4 745.2 753.7 758.7 764 773.3 779.1 784.4 795.5 799.2 807.4 814.2 822.7 827.7 833 842.1 845.5 853.4 862.8 871.3 880.3 886.4 894.1 899.5 903.4" y="1349.6">ns3::Ptr&lt; ns3::NixVector &gt;</text>
<text x="959.6 967.9 974.7 983.1 988.1 992.7 1003 1010.5 1013.5 1016.4 1025 1032.8 1040.5 1048.6 1058 1065.9 1073.3" y="810.8">ns3::CallbackBase</text>
<text x="1198.2 1206.5 1216 1225.7 1235.1 1244.5" y="1312.6">PARENT</text>
<text x="1154.4 1162.7 1169.5 1178 1183 1187.5 1197.8 1205.3 1208.3 1211.2 1219.8 1227.6 1235.3 1242.6 1253.7 1258.1 1268.2 1271.7 1275.6 1283.3 1292.2" y="667.5">ns3::Callback&lt; R, T1,</text>
<text x="1158.6 1167.1 1175.2 1178.7 1182.6 1190.5 1199.2 1202.7 1206.6 1214.5 1223.2 1226.7 1230.6 1239.5 1247.2 1250.7 1254.6 1262.4 1271.2" y="684.8">T2, T3, T4, T5, T6,</text>
<text x="1187.6 1195.5 1204.2 1207.7 1211.6 1219.5 1228.2 1231.7 1235.6 1243.5 1251.7 1255.6" y="702.1">T7, T8, T9 &gt;</text>
<text x="1577.8 1586.1 1592.9 1601.3 1606.3 1610.9 1621.2 1628.7 1631.7 1634.6 1643.2 1651 1658.7 1666 1677.1 1680.6 1689 1697 1704.7 1708.6" y="383.2">ns3::Callback&lt; bool,</text>
<text x="1582.7 1592 1597.8 1603 1614.1 1618.6 1628.5 1638 1644.7 1655.5 1664.2 1671.7 1675 1683.5 1692.1 1696 1707.6 1711.1 1715.7 1725 1730.8" y="400.5">Ptr&lt; NetDevice &gt;, Ptr</text>
<text x="1578 1589.1 1593 1601 1608.8 1617.1 1625 1631.1 1635.7 1644.2 1652 1659.7 1667.5 1677 1683.1 1687 1698.6 1702.1 1705.9 1713.7 1716.8 1726 1731.7 1739.8" y="417.8">&lt; const Packet &gt;, uint16</text>
<text x="1578.3 1586 1592.6 1596.1 1600 1608 1615.8 1624.1 1632 1638.1 1642 1651.1 1659.1 1666.8 1672.5 1681.1 1688.1 1695.1 1698.7 1709.6 1713.1 1717 1725 1732.8 1741.1 1749" y="435.2">_t, const Address &amp;, const</text>
<text x="1582 1591.1 1599.1 1606.8 1612.5 1621.1 1628.1 1635.1 1638.7 1649.6 1653.1 1657.5 1665.8 1673.9 1682.1 1695.1 1699.7 1708.2 1716 1723.7 1731.5 1741 1747 1755.2 1762.6 1771.5 1780.1 1784" y="452.5">Address &amp;, enum PacketType &gt;</text>
<text x="1641.4 1649.3 1655.4 1663.7 1668.7 1673 1676 1679.4 1687.3 1693.3 1704.4 1708.3 1716.4 1720.3" y="506">std::list&lt; T &gt;</text>
<text x="1619.3 1627.5 1634.3 1642.8 1647.8 1652.4 1662.7 1670.2 1673.2 1676.1 1684.7 1692.4 1700.1 1707.5 1718.6 1722.6 1730.5 1738.2 1741.6 1750.1" y="558.7">ns3::Callback&lt; void,</text>
<text x="1623.5 1631.2 1640.1 1643.6 1647.5 1656 1664.1 1667.6 1671.5 1679.3 1688.1 1691.6 1695.5 1703.4 1712.1 1715.6 1719.5 1728.4 1736.1" y="576.1">T1, T2, T3, T4, T5,</text>
<text x="1649 1656.8 1665.6 1669.1 1673 1680.8 1689.6 1693.1 1697 1704.8 1713.1 1717" y="593.4">T6, T7, T8 &gt;</text>
<text x="1600.6 1608.8 1615.6 1624.1 1629.1 1633.7 1644 1651.5 1654.5 1657.4 1666 1673.7 1681.4 1688.8 1699.8 1703.9 1711.8 1719.5 1722.9 1731.4" y="647.2">ns3::Callback&lt; void,</text>
<text x="1604.6 1612.8 1619.6 1628.1 1633.1 1638.4 1647.7 1653.5 1658.8 1669.8 1673.7 1681.8 1689.6 1697.8 1705.7 1711.8 1715.6 1723.8 1730.6" y="664.5">ns3::Ptr&lt; const ns3</text>
<text x="1601.1 1606.1 1611.4 1620 1627.7 1635.4 1643.2 1652.7 1658.8 1662.8 1674.4 1677.8 1681.6 1689.8 1696.6 1705.1 1710.1 1715.4 1724.7 1730.5" y="681.9">::Packet &gt;, ns3::Ptr</text>
<text x="1600.8 1611.8 1615.6 1623.8 1630.6 1639.1 1644.1 1649.4 1659.2 1668.7 1675.5 1686.2 1694.9 1702.5 1705.7 1714.2 1722.8 1726.8 1738.4 1741.8 1745.6 1753.8 1760.6" y="699.2">&lt; ns3::NetDevice &gt;, ns3</text>
<text x="1601.1 1606.1 1611.4 1620.7 1626.5 1631.8 1642.8 1646.6 1654.8 1661.6 1670.1 1675.1 1680.4 1690.2 1699.7 1706.5 1717.2 1725.9 1733.5 1736.7 1745.2 1753.8 1757.8 1769.4" y="716.5">::Ptr&lt; ns3::NetDevice &gt;,</text>
<text x="1604.6 1612.8 1619.6 1628.1 1633.1 1637.8 1645.5 1648.8 1662.2 1671.4 1674.8 1678.6 1686.8 1693.6 1702.1 1707.1 1711.8 1719.5 1722.8 1736.2 1745.4 1748.8 1752.8 1760.6 1769.4" y="733.9">ns3::Time, ns3::Time, T6,</text>
<text x="1661.3 1669.1 1677.9 1681.3 1685.3 1693.1 1701.3 1705.3" y="751.2">T7, T8 &gt;</text>
<text x="1611.8 1620.1 1626.9 1635.3 1640.3 1644.9 1655.2 1662.7 1665.7 1668.6 1677.2 1685 1692.7 1700 1711.1 1715.2 1723 1730.7 1734.1 1742.6" y="803.8">ns3::Callback&lt; void,</text>
<text x="1615.8 1624.1 1630.9 1639.3 1644.3 1649.7 1659 1664.8 1670 1681.1 1685 1693 1700.8 1709.1 1717 1723.1 1726.8 1735.1 1741.9" y="821.1">ns3::Ptr&lt; const ns3</text>
<text x="1612.3 1617.3 1622.7 1631.2 1639 1646.7 1654.5 1664 1670.1 1674 1685.6 1689.1 1693 1701.5 1709.6 1713.1 1717 1724.9 1733.6 1737.1 1741 1748.9 1757.6" y="838.4">::Packet &gt;, T2, T3, T4,</text>
<text x="1637 1645.9 1653.6 1657.1 1661 1668.8 1677.6 1681.1 1685 1692.9 1701.6 1705.1 1709 1716.9 1725.1 1729" y="855.7">T5, T6, T7, T8 &gt;</text>
<text x="1601.8 1610.1 1616.9 1625.3 1630.3 1634.9 1645.2 1652.7 1655.7 1658.6 1667.2 1675 1682.7 1690 1701.1 1704.6 1713 1721 1728.7 1732.6" y="907.9">ns3::Callback&lt; bool,</text>
<text x="1606.7 1616 1621.8 1627 1638.1 1642.6 1652.5 1662 1668.7 1679.5 1688.2 1695.7 1699 1707.5 1716.1 1720 1731.6 1735.1 1739.7 1749 1754.8" y="925.2">Ptr&lt; NetDevice &gt;, Ptr</text>
<text x="1602 1613.1 1617 1625 1632.8 1641.1 1649 1655.1 1659.7 1668.2 1676 1683.7 1691.5 1701 1707.1 1711 1722.6 1726.1 1729.9 1737.7 1740.8 1750 1755.7 1763.8" y="942.6">&lt; const Packet &gt;, uint16</text>
<text x="1614.3 1622 1628.6 1632.1 1636 1644 1651.8 1660.1 1668 1674.1 1678 1687.1 1695.1 1702.8 1708.5 1717.1 1724.1 1731.1 1734.7 1745.1 1749" y="959.9">_t, const Address &amp; &gt;</text>
<text x="1629.3 1637.5 1644.3 1652.8 1657.8 1662.8 1673.1 1682.4 1685.9 1694.4 1703.4 1710.3 1719.7 1727.5 1734.9" y="1133.9">ns3::ObjectBase</text>
<text x="1599.8 1608.1 1614.9 1623.3 1628.3 1632.8 1640.7 1644.1 1656.6 1664.7 1668.5 1677.5 1687.5 1697 1700.9 1711 1718.9 1726.8 1736" y="1267.7">ns3::SimpleRefCount</text>
<text x="1600 1611.1 1615 1623.6 1627.1 1631.7 1640 1649.5 1659.2 1668.6 1678 1686.6 1690.1 1694.7 1705.2 1714.3 1722.2 1731 1739.2 1748.5 1758.1 1762" y="1285.1">&lt; T, PARENT, DELETER &gt;</text>
<text x="1840.1 1848 1854.2 1862.4 1867.4 1872.2 1880.5 1889 1898 1904.1 1911.8 1917.1 1928.2 1932.8 1943.5 1952.2 1959.8 1963 1971.5 1980.1 1989.2 1997.2 2004.8 2009 2014.8 2018.1 2025.9" y="297.4">std::vector&lt; DeviceAddition</text>
<text x="1901.8 1909.3 1912.6 1920.5 1927 1935.4 1944 1952.3 1957.7 1961.6" y="314.7">Listener &gt;</text>
<text x="2117.5 2125.4 2131.5 2139.8 2144.8 2149.1 2152.1 2155.5 2163.4 2169.4 2180.5 2184.3 2194.6 2202.1 2205.1 2208 2216.6 2224.4 2232.1" y="536.6">std::list&lt; Callback</text>
<text x="2117.4 2128.5 2132.6 2140.4 2148.1 2151.5 2160 2163.5 2167.4 2175.1 2184 2187.5 2191.4 2199.9 2208 2211.5 2215.4 2223.3 2232" y="553.9">&lt; void, T1, T2, T3,</text>
<text x="2121.4 2129.3 2138 2141.5 2145.4 2154.3 2162 2165.5 2169.4 2177.2 2186 2189.5 2193.4 2201.3 2210 2213.5 2217.4 2225.3 2233.5 2237.4 2248.5 2252.4" y="571.2">T4, T5, T6, T7, T8 &gt; &gt;</text>
<text x="2081 2088.9 2095 2103.2 2108.2 2112.6 2115.6 2119 2126.9 2132.9 2144 2147.8 2158.1 2165.6 2168.6 2171.5 2180.1 2187.9 2195.6" y="623.6">std::list&lt; Callback</text>
<text x="2080.9 2092 2096.1 2103.9 2111.6 2115 2123.5 2127 2130.7 2139 2145.8 2154.2 2159.2 2164.6 2173.9 2179.7 2184.9 2196 2199.9 2207.9 2215.7 2224 2231.9" y="641">&lt; void, ns3::Ptr&lt; const</text>
<text x="2084.7 2093 2099.8 2108.2 2113.2 2118.6 2127.1 2134.9 2142.6 2150.4 2159.9 2166 2169.9 2181.5 2185 2188.7 2197 2203.8 2212.2 2217.2 2222.6 2231.9 2237.7" y="658.3">ns3::Packet &gt;, ns3::Ptr</text>
<text x="2080.9 2092 2095.7 2104 2110.8 2119.2 2124.2 2129.5 2139.4 2148.9 2155.6 2166.4 2175.1 2182.6 2185.9 2194.4 2203 2206.9 2218.5 2222 2225.7 2234 2240.8 2249.2 2254.2" y="675.6">&lt; ns3::NetDevice &gt;, ns3::</text>
<text x="2081.6 2090.9 2096.7 2101.9 2113 2116.7 2125 2131.8 2140.2 2145.2 2150.5 2160.4 2169.9 2176.6 2187.4 2196.1 2203.6 2206.9 2215.4 2224 2227.9 2239.5 2243 2246.7 2255 2261.8" y="692.9">Ptr&lt; ns3::NetDevice &gt;, ns3</text>
<text x="2081.2 2086.2 2090.9 2098.6 2102 2115.4 2124.5 2128 2131.7 2140 2146.8 2155.2 2160.2 2164.9 2172.6 2176 2189.4 2198.5 2202 2205.9 2213.7 2222.5 2226 2229.9 2237.8 2246.5 2250 2253.9 2261.8 2270 2273.9 2285 2288.9" y="710.3">::Time, ns3::Time, T6, T7, T8 &gt; &gt;</text>
<text x="2112.2 2120.1 2126.3 2134.5 2139.5 2143.9 2146.9 2150.2 2158.1 2164.2 2175.2 2179.1 2189.4 2196.9 2199.9 2202.8 2211.4 2219.1 2226.8" y="762.4">std::list&lt; Callback</text>
<text x="2112.2 2123.2 2127.3 2135.2 2142.9 2146.3 2154.8 2158.2 2162 2170.2 2177 2185.5 2190.5 2195.8 2205.1 2210.9 2216.2 2227.2 2231.1 2239.2 2247 2255.2 2263.1" y="779.7">&lt; void, ns3::Ptr&lt; const</text>
<text x="2116 2124.2 2131 2139.5 2144.5 2149.8 2158.4 2166.1 2173.8 2181.6 2191.1 2197.2 2201.2 2212.8 2216.2 2220.2 2228.7 2236.8 2240.2 2244.2 2252 2260.8" y="797">ns3::Packet &gt;, T2, T3,</text>
<text x="2121.7 2129.6 2138.3 2141.8 2145.7 2154.6 2162.3 2165.8 2169.7 2177.5 2186.3 2189.8 2193.7 2201.5 2210.3 2213.8 2217.7 2225.5 2233.8 2237.7 2248.8 2252.7" y="814.3">T4, T5, T6, T7, T8 &gt; &gt;</text>
<text x="2186.3" y="866.7">K</text>
<text x="2112.7 2121 2127.8 2136.2 2141.2 2145.7 2153.6 2157 2169.5 2177.6 2181.4 2190.4 2200.4 2209.9 2213.8 2223.9 2231.8 2239.7 2248.9" y="1119">ns3::SimpleRefCount</text>
<text x="2112.9 2124 2128.2 2138.5 2147.9 2151.4 2159.9 2168.9 2175.5 2179 2183.2 2193.5 2202.9 2206.4 2214.9 2223.9 2230.7 2240.1 2248 2255.4 2264.5" y="1136.4">&lt; Object, ObjectBase,</text>
<text x="2135.2 2145.5 2154.9 2158.4 2166.9 2175.9 2182.6 2193.4 2201.6 2205.4 2214.9 2221.4 2229.7 2235 2238.9" y="1153.7">ObjectDeleter &gt;</text>
<text x="2151.5 2159.7 2166.5 2175 2180 2184.7 2192.8 2200.3 2209.1 2218.3 2221.8" y="1207">ns3::TypeId</text>
<text x="2119.5 2127.7 2134.5 2143 2148 2152.5 2160.4 2163.7 2176.3 2184.4 2188.1 2197.2 2207.1 2216.6 2220.6 2230.7 2238.6 2246.5 2255.6" y="1318.4">ns3::SimpleRefCount</text>
<text x="2151.7 2162.8 2167.3 2175.9 2183.6 2191.3 2199.1 2208.6 2214.8 2218.7" y="1335.8">&lt; Packet &gt;</text>
<text x="2627.1 2635 2641.2 2649.4 2654.4 2659.2 2667.5 2676 2685 2691.1 2698.8 2704.1 2715.2 2718.9 2727.1 2733.9 2742.4 2747.4 2752.7 2762 2767.8" y="22.6">std::vector&lt; ns3::Ptr</text>
<text x="2627.1 2638.2 2641.9 2650.1 2656.9 2665.4 2670.4 2675.1 2683.7 2691.7 2699.8 2702.8 2706 2714.3 2723 2728.8 2732.1 2739.9 2748.2 2752.1 2763.2 2767.1" y="39.9">&lt; ns3::Application &gt; &gt;</text>
<text x="2626.6 2634.5 2640.7 2648.9 2653.9 2658.7 2667 2675.5 2684.5 2690.6 2698.3 2703.6 2714.7 2718.4 2726.6 2733.4 2741.9 2746.9 2752.2 2761.5 2767.3" y="91.8">std::vector&lt; ns3::Ptr</text>
<text x="2626.6 2637.7 2641.4 2649.6 2656.4 2664.9 2669.9 2675.2 2685 2694.5 2701.3 2712 2720.7 2728.3 2731.5 2740 2748.7 2752.6 2763.7 2767.6" y="109.2">&lt; ns3::NetDevice &gt; &gt;</text>
<text x="2598.6 2606.5 2612.7 2620.9 2625.9 2630.7 2639 2647.5 2656.5 2662.6 2670.3 2675.6 2686.7 2690.6 2698.5 2704.3 2709.5 2717.5 2726.5" y="161">std::vector&lt; struct</text>
<text x="2603.2 2612.6 2620.7 2629 2637.9 2642.9 2648.2 2656.3 2661.6 2670.5 2676.6 2684.5 2692.6 2700.3 2704.1 2713.8 2721.4 2729.7 2737.3 2741 2749.3 2754.7 2763.4 2772.5 2778.3 2783.7 2791.7 2795.6" y="178.3">Node::ProtocolHandlerEntry &gt;</text>
<text x="2635.2 2643.4 2650.2 2658.7 2663.7 2668.4 2676.1 2681.6 2689.3 2697.8 2706.5 2714.3 2724.6 2732.1 2735.1 2738 2746.6 2754.3 2762" y="548.6">ns3::TracedCallback</text>
<text x="2635.4 2646.4 2650.4 2658.1 2667 2670.4 2674.4 2682.9 2691 2694.4 2698.4 2706.2 2715 2718.4 2722.4 2730.3 2739 2742.4 2746.4 2755.3 2763" y="565.9">&lt; T1, T2, T3, T4, T5,</text>
<text x="2664.9 2672.7 2681.5 2684.9 2688.9 2696.7 2705.5 2708.9 2712.9 2720.7 2728.9 2732.9" y="583.2">T6, T7, T8 &gt;</text>
<text x="2655.7 2663.6 2669.7 2677.9 2682.9 2687.7 2695.1 2704.6 2710.6 2721.7 2726 2734.7 2738.6" y="847.2">std::set&lt; K &gt;</text>
<text x="2662.4 2670.6 2677.4 2685.9 2690.9 2695.9 2706.2 2715.5 2719 2727.5 2736.5" y="1198.3">ns3::Object</text>
<text x="2661.9 2670.1 2676.9 2685.4 2690.4 2695.7 2704.3 2712 2719.7 2727.5 2737" y="1385.8">ns3::Packet</text>
<text x="3103.2 3111.5 3118.3 3126.8 3131.8 3137 3146.4 3154.5 3162.9" y="183.2">ns3::Node</text>
<text x="3050.7 3059 3065.8 3074.2 3079.2 3083.9 3091.7 3097.1 3104.9 3113.4 3122 3129.8 3140.1 3147.6 3150.6 3153.5 3162.1 3169.9 3177.6" y="598.9">ns3::TracedCallback</text>
<text x="3050.9 3062 3065.7 3074 3080.8 3089.2 3094.2 3099.6 3108.9 3114.7 3119.9 3131 3134.9 3142.9 3150.7 3159 3166.9 3173 3176.7 3185 3191.8" y="616.3">&lt; ns3::Ptr&lt; const ns3</text>
<text x="3051.2 3056.2 3061.6 3070.1 3077.9 3085.6 3093.4 3102.9 3109 3112.9 3124.5 3128 3131.7 3140 3146.8 3155.2 3160.2 3165.6 3174.9 3180.7 3185.9" y="633.6">::Packet &gt;, ns3::Ptr&lt;</text>
<text x="3054.7 3063 3069.8 3078.2 3083.2 3088.5 3098.4 3107.9 3114.6 3125.4 3134.1 3141.6 3144.9 3153.4 3162 3165.9 3177.5 3181 3184.7 3193 3199.8" y="650.9">ns3::NetDevice &gt;, ns3</text>
<text x="3051.2 3056.2 3061.6 3070.9 3076.7 3081.9 3093 3096.7 3105 3111.8 3120.2 3125.2 3130.5 3140.4 3149.9 3156.6 3167.4 3176.1 3183.6 3186.9 3195.4 3204 3207.9 3219.5" y="668.2">::Ptr&lt; ns3::NetDevice &gt;,</text>
<text x="3061.2 3069.5 3076.3 3084.8 3089.8 3094.4 3102.1 3105.5 3118.9 3128 3131.5 3135.2 3143.5 3150.3 3158.8 3163.8 3168.4 3176.1 3179.5 3192.9 3201.5 3205.4" y="685.6">ns3::Time, ns3::Time &gt;</text>
<text x="3062.4 3070.7 3077.5 3085.9 3090.9 3095.6 3103.4 3108.8 3116.6 3125.1 3133.7 3141.5 3151.8 3159.3 3162.3 3165.2 3173.8 3181.6 3189.3" y="737.8">ns3::TracedCallback</text>
<text x="3062.6 3073.7 3077.4 3085.7 3092.5 3100.9 3105.9 3111.3 3120.6 3126.4 3131.6 3142.7 3146.6 3154.6 3162.4 3170.7 3178.6 3184.7 3188.4 3196.7 3203.5" y="755.1">&lt; ns3::Ptr&lt; const ns3</text>
<text x="3093.4 3098.4 3103.8 3112.3 3120.1 3127.8 3135.6 3145.1 3151.2 3155.1 3166.2 3170.1" y="772.4">::Packet &gt; &gt;</text>
<text x="3104 3112.2 3119 3127.5 3132.5 3137.2 3144.9 3148.2 3161.6" y="825.8">ns3::Time</text>
<text x="3093.5 3101.7 3108.5 3117 3122 3126.6 3136.5 3144.9 3152.5 3160.5 3169.1 3177.4" y="1114.2">ns3::Channel</text>
<text x="3053 3061.2 3068 3076.5 3081.5 3086.5 3096.8 3106.1 3109.6 3118.1 3127.1 3133.5 3138.5 3143.2 3152.3 3160.3 3167.9 3173.6 3182.3 3190.4 3199.1 3205.6 3214.2" y="1217.8">ns3::Object::Aggregates</text>
<text x="3084.2 3092.4 3099.2 3107.7 3112.7 3117.5 3126.1 3131.1 3136.4 3144.1 3150.2 3161.4 3169.5 3177.8 3186.1" y="1271.2">ns3::ErrorModel</text>
<text x="3054.2 3062.5 3069.3 3077.8 3082.8 3088.1 3097.4 3103.2 3108.4 3119.5 3123.2 3131.5 3138.3 3146.8 3151.8 3157.1 3165.6 3173.4 3181.1 3188.9 3198.4 3204.5 3208.4" y="1431.4">ns3::Ptr&lt; ns3::Packet &gt;</text>
<text x="3450.3 3458.6 3465.4 3473.8 3478.8 3484.2 3493.5 3499.3 3504.5 3515.6 3519.3 3527.6 3534.4 3542.8 3547.8 3553.1 3562.5 3570.6 3579 3587.6 3591.5" y="247.3">ns3::Ptr&lt; ns3::Node &gt;</text>
<text x="3439.8 3448.1 3454.9 3463.3 3468.3 3473.7 3482 3489.7 3492.8 3502 3508 3516 3524.7 3533 3540.7 3543.8 3553 3558.9 3568.8 3577.2 3584.8 3592.8 3601.5 3609.7" y="762">ns3::PointToPointChannel</text>
<text x="3487.3 3495.6 3502.4 3510.9 3515.9 3520.9 3531.4 3540 3548.4 3557" y="978.1">ns3::Queue</text>
<text x="3431.8 3440.1 3446.9 3455.3 3460.3 3465.7 3475 3480.8 3486 3497.1 3500.8 3509.1 3515.9 3524.3 3529.3 3534.2 3542.8 3547.8 3553 3560.8 3566.8 3578 3586.1 3594.5 3602.7 3606.1 3610" y="1167.4">ns3::Ptr&lt; ns3::ErrorModel &gt;</text>
<text x="3274.2 3282.4 3289.2 3297.7 3302.7 3308 3317.8 3327.3 3334.1 3344.8 3353.5 3361.1 3364.3 3372.8" y="1397">ns3::NetDevice</text>
<text x="3890.4 3898.7 3905.5 3913.9 3918.9 3924.3 3934.8 3943.6 3949.8 3958.1 3967.8 3976.6 3983.1" y="292.4">ns3::DataRate</text>
<text x="3859.9 3868.1 3874.9 3883.4 3888.4 3893.7 3903 3908.8 3914.1 3925.2 3928.9 3937.1 3943.9 3952.4 3957.4 3962.4 3973 3981.5 3990 3998.5 4007.2 4011.1" y="968.6">ns3::Ptr&lt; ns3::Queue &gt;</text>
<text x="3846.9 3855.1 3861.9 3870.4 3875.4 3880.7 3890 3895.8 3901.1 3912.2 3915.9 3924.1 3930.9 3939.4 3944.4 3949.7 3958.1 3965.8 3968.9 3978 3984.1 3992.1 4000.7 4009.1 4016.8 4019.9 4029" y="1021">ns3::Ptr&lt; ns3::PointToPoint</text>
<text x="3906.5 3916.4 3924.8 3932.4 3940.4 3949 3957.3 3960.7 3964.6" y="1038.4">Channel &gt;</text>
<text x="3876.2 3884.4 3891.2 3899.7 3904.7 3910.2 3921.6 3929.3 3937.3 3945.2 3953.4 3962.5 3970.5 3978.1 3983.8 3992.4 3999.4" y="1271.4">ns3::Mac48Address</text>
<text x="4180.3 4188.6 4195.4 4203.9 4208.9 4214.2 4222.5 4230.2 4233.3 4242.5 4248.5 4256.5 4265.2 4273.5 4281.2 4284.3 4293.5 4300.1 4310 4319.5 4326.2 4337 4345.7 4353.2 4356.5 4365" y="900.6">ns3::PointToPointNetDevice</text>
<text x="4486.9 4495.1 4501.9 4510.4 4515.4 4520.7 4530 4535.8 4541.1 4552.1 4555.9 4564.1 4570.9 4579.4 4584.4 4589.7 4598.1 4605.8 4608.9 4618 4624.1 4632.1 4640.7 4649.1 4656.8 4659.9 4669" y="891.7">ns3::Ptr&lt; ns3::PointToPoint</text>
<text x="4537.2 4547 4556.5 4563.3 4574 4582.7 4590.3 4593.5 4602 4610.6 4614.6" y="909.1">NetDevice &gt;</text>
<text x="4789.4 4797.6 4804.4 4812.9 4817.9 4823.2 4831.6 4839.3 4842.4 4851.5 4857.6 4865.6 4874.2 4882.6 4890.3 4893.4 4902.5 4908.5 4918.4 4926.8 4934.4 4942.4 4951 4959.3" y="410.7">ns3::PointToPointChannel</text>
<text x="4858.4 4863.4 4868.3 4875.8 4878.9 4886.7" y="428">::Link</text>
<text x="73.1 86.3 92.6 102 107.8" y="623.2">m_ptr</text>
<text x="792.1 800.3 804.1 812.7 826.1 834.4 843.6 849.7" y="255.2">elements</text>
<text x="281.6 292.7 296.4 304.7 311.5 319.9 324.9 329.5 339.8 347.3 350.3 353.2 361.8 369.6 377.3 385.2 388.7 401.2 409.3 413.4 422.8 430.7 438.1 446.7 450.6" y="924.3">&lt; ns3::CallbackImplBase &gt;</text>
<text x="307.3 318.4 322.1 330.4 337.2 345.6 350.6 355.9 365 368.5 376.3 385.8 394.3 403.3 409.3 417.1 422.4 426.3" y="1216.5">&lt; ns3::NixVector &gt;</text>
<text x="800.7 813.9 820.3 823.7 836.2 844.3" y="827.5">m_impl</text>
<text x="1638.7 1649.8 1653.5 1661.8 1668.6 1677 1682 1687.3 1696.7 1704.8 1713.2 1721.8 1725.7" y="220.8">&lt; ns3::Node &gt;</text>
<text x="1407.1 1415.3 1419.1 1427.7 1441.1 1449.4 1458.6 1464.7" y="270.7">elements</text>
<text x="1349.9 1361 1364.5 1372.9 1380.9 1388.6 1392.5 1396 1400.6 1409.9 1415.7 1420.9 1432 1436.5 1446.4 1455.9 1462.6 1473.4 1482.1 1489.6 1492.9 1501.4" y="372.9">&lt; bool, Ptr&lt; NetDevice</text>
<text x="1349.9 1361.5 1365 1369.6 1378.9 1384.7 1389.9 1401 1404.9 1412.9 1420.7 1429 1436.9 1443 1447.6 1456.1 1463.9 1471.6 1479.4 1488.9" y="390.3">&gt;, Ptr&lt; const Packet</text>
<text x="1349.9 1361.5 1365 1368.8 1376.6 1379.7 1388.9 1394.6 1402.7 1411.2 1418.9 1425.5 1429 1432.9 1440.9 1448.7 1457 1464.9 1471 1474.9 1484 1492 1499.7 1505.4 1514 1521" y="407.6">&gt;, uint16_t, const Address</text>
<text x="1349.6 1360.5 1364 1367.9 1375.9 1383.7 1392 1399.9 1406 1409.9 1419 1427 1434.7 1440.4 1449 1456 1463 1466.6 1477.5 1481 1485.4 1493.7 1501.8 1510" y="424.9">&amp;, const Address &amp;, enum</text>
<text x="1391.6 1400.1 1407.9 1415.6 1423.4 1432.9 1438.9 1447.1 1454.5 1463.4 1472 1475.9" y="442.3">PacketType &gt;</text>
<text x="1375.1 1386.2 1390.3 1398.1 1405.8 1409.2 1417.7 1421.2 1425.1 1432.8 1441.7 1445.2 1449.1 1457.6 1465.7 1469.2 1473.1 1481 1489.7" y="526.4">&lt; void, T1, T2, T3,</text>
<text x="1375.1 1383 1391.7 1395.2 1399.1 1408 1415.7 1419.2 1423.1 1430.9 1439.7 1443.2 1447.1 1455 1463.7 1467.2 1471.1 1479 1487.2 1491.1" y="543.8">T4, T5, T6, T7, T8 &gt;</text>
<text x="1354.4 1365.5 1369.6 1377.4 1385.1 1388.5 1397 1400.5 1404.2 1412.5 1419.3 1427.8 1432.8 1438.1 1447.4 1453.2 1458.4 1469.5 1473.4 1481.4 1489.2 1497.5 1505.4" y="592.8">&lt; void, ns3::Ptr&lt; const</text>
<text x="1354.2 1362.5 1369.3 1377.8 1382.8 1388.1 1396.6 1404.4 1412.1 1419.9 1429.4 1435.5 1439.4 1451 1454.5 1458.2 1466.5 1473.3 1481.8 1486.8 1492.1 1501.4 1507.2" y="610.1">ns3::Packet &gt;, ns3::Ptr</text>
<text x="1350.4 1361.5 1365.2 1373.5 1380.3 1388.8 1393.8 1399 1408.9 1418.4 1425.1 1435.9 1444.6 1452.1 1455.4 1463.9 1472.5 1476.4 1488 1491.5 1495.2 1503.5 1510.3" y="627.4">&lt; ns3::NetDevice &gt;, ns3</text>
<text x="1350.8 1355.8 1361.1 1370.4 1376.2 1381.4 1392.5 1396.2 1404.5 1411.3 1419.8 1424.8 1430 1439.9 1449.4 1456.1 1466.9 1475.6 1483.1 1486.4 1494.9 1503.5 1507.4 1519" y="644.8">::Ptr&lt; ns3::NetDevice &gt;,</text>
<text x="1354.2 1362.5 1369.3 1377.8 1382.8 1387.4 1395.1 1398.5 1411.9 1421 1424.5 1428.2 1436.5 1443.3 1451.8 1456.8 1461.4 1469.1 1472.5 1485.9 1495 1498.5 1502.4 1510.2 1519" y="662.1">ns3::Time, ns3::Time, T6,</text>
<text x="1410.9 1418.8 1427.5 1431 1434.9 1442.8 1451 1454.9" y="679.4">T7, T8 &gt;</text>
<text x="1359.9 1371 1375.1 1382.9 1390.6 1394 1402.5 1406 1409.7 1418 1424.8 1433.2 1438.2 1443.6 1452.9 1458.7 1463.9 1475 1478.9 1486.9 1494.7 1503 1510.9" y="708.8">&lt; void, ns3::Ptr&lt; const</text>
<text x="1359.7 1368 1374.8 1383.2 1388.2 1393.6 1402.1 1409.9 1417.6 1425.4 1434.9 1441 1444.9 1456.5 1460 1463.9 1472.4 1480.5 1484 1487.9 1495.8 1504.5" y="726.1">ns3::Packet &gt;, T2, T3,</text>
<text x="1374.9 1382.8 1391.5 1395 1398.9 1407.8 1415.5 1419 1422.9 1430.7 1439.5 1443 1446.9 1454.8 1463.5 1467 1470.9 1478.8 1487 1490.9" y="743.4">T4, T5, T6, T7, T8 &gt;</text>
<text x="1334.9 1346 1349.5 1357.9 1365.9 1373.6 1377.5 1381 1385.6 1394.9 1400.7 1405.9 1417 1421.5 1431.4 1440.9 1447.6 1458.4 1467.1 1474.6 1477.9 1486.4" y="824.8">&lt; bool, Ptr&lt; NetDevice</text>
<text x="1334.9 1346.5 1350 1354.6 1363.9 1369.7 1374.9 1386 1389.9 1397.9 1405.7 1414 1421.9 1428 1432.6 1441.1 1448.9 1456.6 1464.4 1473.9" y="842.1">&gt;, Ptr&lt; const Packet</text>
<text x="1334.9 1346.5 1350 1353.8 1361.6 1364.7 1373.9 1379.6 1387.7 1396.2 1403.9 1410.5 1414 1417.9 1425.9 1433.7 1442 1449.9 1456 1459.9 1469 1477 1484.7 1490.4 1499 1506 1513 1516.6 1527 1530.9" y="859.4">&gt;, uint16_t, const Address &amp; &gt;</text>
<text x="1620.2 1631.3 1635 1643.3 1650.1 1658.5 1663.5 1668.4 1677 1682 1687.2 1695 1701 1712.2 1720.3 1728.7 1736.9 1740.3 1744.2" y="1181">&lt; ns3::ErrorModel &gt;</text>
<text x="1396.5 1409.7 1416.2 1424.1 1427.6 1435.4 1444.9 1453.4 1462.4 1468.4 1476.2" y="1378.7">m_nixVector</text>
<text x="1383.1 1394.2 1397.9 1406.2 1413 1421.5 1426.5 1431.8 1440.3 1448.1 1455.8 1463.6 1473.1 1479.2 1483.1" y="1428.1">&lt; ns3::Packet &gt;</text>
<text x="1868.8 1879.9 1883.7 1894 1901.5 1904.5 1907.4 1916 1923.8 1931.5 1938.8 1949.9 1954 1961.8 1969.5 1972.9 1981.4 1984.9 1988.8 1996.5 2005.4" y="426.3">&lt; Callback&lt; void, T1,</text>
<text x="1868.8 1877.3 1885.4 1888.9 1892.8 1900.7 1909.4 1912.9 1916.8 1924.7 1933.4 1936.9 1940.8 1949.7 1957.4 1960.9 1964.8 1972.6 1981.4" y="443.6">T2, T3, T4, T5, T6,</text>
<text x="1903.8 1911.7 1920.4 1923.9 1927.8 1935.7 1943.9 1947.8 1958.9 1962.8" y="460.9">T7, T8 &gt; &gt;</text>
<text x="1841.3 1852.4 1856.2 1866.5 1874 1877 1879.9 1888.5 1896.3 1904 1911.3 1922.4 1926.5 1934.3 1942 1945.4 1953.9 1957.4 1961.1 1969.4 1976.2" y="494.3">&lt; Callback&lt; void, ns3</text>
<text x="1837.7 1842.7 1848 1857.3 1863.1 1868.3 1879.4 1883.3 1891.3 1899.1 1907.4 1915.3 1921.4 1925.1 1933.4 1940.2 1948.7 1953.7 1959 1967.5 1975.3 1983 1990.8 2000.3" y="511.6">::Ptr&lt; const ns3::Packet</text>
<text x="1841.3 1852.9 1856.4 1860.1 1868.4 1875.2 1883.7 1888.7 1894 1903.3 1909.1 1914.3 1925.4 1929.1 1937.4 1944.2 1952.7 1957.7 1962.9 1972.8 1982.3 1989 1999.8 2008.5 2016 2019.3 2027.8" y="528.9">&gt;, ns3::Ptr&lt; ns3::NetDevice</text>
<text x="1841.3 1852.9 1856.4 1860.1 1868.4 1875.2 1883.7 1888.7 1894 1903.3 1909.1 1914.3 1925.4 1929.1 1937.4 1944.2 1952.7 1957.7 1962.9 1972.8 1982.3 1989 1999.8 2008.5 2016 2019.3 2027.8" y="546.3">&gt;, ns3::Ptr&lt; ns3::NetDevice</text>
<text x="1841.3 1852.9 1856.4 1860.1 1868.4 1875.2 1883.7 1888.7 1893.3 1901 1904.4 1917.8 1926.9 1930.4 1934.1 1942.4 1949.2 1957.7 1962.7 1967.3 1975 1978.4 1991.8 2000.9 2004.4 2008.3 2016.1 2024.9" y="563.6">&gt;, ns3::Time, ns3::Time, T6,</text>
<text x="1903.8 1911.7 1920.4 1923.9 1927.8 1935.7 1943.9 1947.8 1958.9 1962.8" y="580.9">T7, T8 &gt; &gt;</text>
<text x="1907.3 1915.5 1919.3 1927.9 1941.3 1949.6 1958.8 1964.9" y="623.7">elements</text>
<text x="1856.3 1867.4 1871.2 1881.5 1889 1892 1894.9 1903.5 1911.3 1919 1926.3 1937.4 1941.5 1949.3 1957 1960.4 1968.9 1972.4 1976.1 1984.4 1991.2" y="673.1">&lt; Callback&lt; void, ns3</text>
<text x="1852.7 1857.7 1863 1872.3 1878.1 1883.3 1894.4 1898.3 1906.3 1914.1 1922.4 1930.3 1936.4 1940.1 1948.4 1955.2 1963.7 1968.7 1974 1982.5 1990.3 1998 2005.8 2015.3" y="690.4">::Ptr&lt; const ns3::Packet</text>
<text x="1856.3 1867.9 1871.4 1875.3 1883.8 1891.9 1895.4 1899.3 1907.2 1915.9 1919.4 1923.3 1931.2 1939.9 1943.4 1947.3 1956.2 1963.9 1967.4 1971.3 1979.1 1987.9" y="707.8">&gt;, T2, T3, T4, T5, T6,</text>
<text x="1903.8 1911.7 1920.4 1923.9 1927.8 1935.7 1943.9 1947.8 1958.9 1962.8" y="725.1">T7, T8 &gt; &gt;</text>
<text x="1907.3 1915.5 1919.3 1927.9 1941.3 1949.6 1958.8 1964.9" y="771.6">elements</text>
<text x="1907.3 1915.5 1919.3 1927.9 1941.3 1949.6 1958.8 1964.9" y="823.5">elements</text>
<text x="1884.5 1895.6 1899.3 1907.6 1914.4 1922.8 1927.8 1932.8 1943.4 1952 1960.4 1969 1977.6 1981.5" y="1002.7">&lt; ns3::Queue &gt;</text>
<text x="1837.1 1848.2 1851.9 1860.2 1867 1875.5 1880.5 1885.8 1894.1 1901.8 1904.9 1914.1 1920.1 1928.1 1936.8 1945.1 1952.8 1955.9 1965.1 1971 1980.9 1989.3 1996.9 2004.9 2013.6 2021.8 2025.2 2029.1" y="1052.1">&lt; ns3::PointToPointChannel &gt;</text>
<text x="1861 1872.1 1876.3 1886.6 1896 1899.5 1908 1917 1923.6 1927.1 1931.3 1941.6 1951 1954.5 1963 1972 1978.8 1988.2 1996.1 2003.5 2012.6" y="1152.9">&lt; Object, ObjectBase,</text>
<text x="1881.3 1891.6 1901 1904.5 1913 1922 1928.7 1939.5 1947.7 1951.5 1961 1967.5 1975.8 1981.1 1985" y="1170.3">ObjectDeleter &gt;</text>
<text x="1900 1911.1 1915.7 1924.2 1932 1939.7 1947.5 1957 1963.1 1967" y="1282.4">&lt; Packet &gt;</text>
<text x="2359.8 2373 2379.8 2388.2 2396.9 2404.4 2407.7 2416.2 2424.7 2433.8 2441.8 2449.4 2453.7 2459.4 2462.7 2470.5 2479 2486.4 2489.8 2497.7 2504.2 2512.5 2521.2 2529.5 2534.8" y="234.8">m_deviceAdditionListeners</text>
<text x="2401.6 2414.8 2421.5 2429.7 2437.2 2440.2 2443.1 2451.7 2459.5 2467.2 2474.8 2482.2 2485.6 2493.5" y="548.8">m_callbackList</text>
<text x="2434.5 2442.3 2451 2458.9" y="844.5">keys</text>
<text x="2431.9 2445.1 2452.8 2458.5 2461.9" y="1193">m_tid</text>
<text x="2340 2351.1 2354.8 2363.1 2369.9 2378.3 2383.3 2388.7 2397 2404.7 2407.8 2417 2423 2431 2439.7 2448 2455.7 2458.8 2468 2474.6 2484.5 2494 2500.7 2511.5 2520.2 2527.7 2531 2539.5 2548.1 2552" y="1479.1">&lt; ns3::PointToPointNetDevice &gt;</text>
<text x="2654.7 2667.9 2674.6 2682.8 2690.3 2693.3 2696.2 2704.8 2712.6 2720.3 2727.9 2735.3 2738.7 2746.6" y="678.1">m_callbackList</text>
<text x="2654.7 2667.9 2674.6 2682.8 2690.3 2693.3 2696.2 2704.8 2712.6 2720.3 2727.9 2735.3 2738.7 2746.6" y="758.3">m_callbackList</text>
<text x="2880.6 2893.8 2900.7 2908.1 2916.1 2924.2 2927.2 2930.5 2938.7 2947.5 2953.2 2956.5 2964.3 2972.6" y="42.5">m_applications</text>
<text x="2894.8 2908 2914.8 2923.2 2931.9 2939.4 2942.7 2951.2 2959.8" y="112.4">m_devices</text>
<text x="2892.6 2905.8 2912.3 2920.7 2928.3 2936.6 2944.2 2948 2956.3 2961.6" y="166.9">m_handlers</text>
<text x="2846 2857.1 2860.8 2869.1 2875.9 2884.3 2889.3 2894.7 2904 2909.8 2915 2926.1 2930 2938 2945.8 2954.1 2962 2968.1 2971.8 2980.1 2986.9" y="504.9">&lt; ns3::Ptr&lt; const ns3</text>
<text x="2842.3 2847.3 2852.7 2861.2 2869 2876.7 2884.5 2894 2900.1 2904 2915.6 2919.1 2922.8 2931.1 2937.9 2946.3 2951.3 2956.7 2966 2971.8" y="522.3">::Packet &gt;, ns3::Ptr</text>
<text x="2842 2853.1 2856.8 2865.1 2871.9 2880.3 2885.3 2890.6 2900.5 2910 2916.7 2927.5 2936.2 2943.7 2947 2955.5 2964.1 2968 2979.6 2983.1 2986.8 2995.1 3001.9" y="539.6">&lt; ns3::NetDevice &gt;, ns3</text>
<text x="2842.3 2847.3 2852.7 2862 2867.8 2873 2884.1 2887.8 2896.1 2902.9 2911.3 2916.3 2921.6 2931.5 2941 2947.7 2958.5 2967.2 2974.7 2978 2986.5 2995.1 2999 3010.6" y="556.9">::Ptr&lt; ns3::NetDevice &gt;,</text>
<text x="2852.3 2860.6 2867.4 2875.8 2880.8 2885.5 2893.2 2896.6 2910 2919.1 2922.6 2926.3 2934.6 2941.4 2949.8 2954.8 2959.5 2967.2 2970.6 2984 2992.6 2996.5" y="574.3">ns3::Time, ns3::Time &gt;</text>
<text x="2856.9 2868 2871.7 2880 2886.8 2895.2 2900.2 2905.6 2914.9 2920.7 2925.9 2937 2940.9 2948.9 2956.7 2965 2972.9 2979 2982.7 2991 2997.8" y="623.5">&lt; ns3::Ptr&lt; const ns3</text>
<text x="2885.8 2890.8 2896.1 2904.6 2912.4 2920.1 2927.9 2937.4 2943.5 2947.4 2958.5 2962.4" y="640.9">::Packet &gt; &gt;</text>
<text x="2876.8 2885 2891.8 2904.9 2912.5 2917.4 2924.4 2927.5 2935.8 2943.7 2951.4 2954.8 2968.2 2976.8" y="824">g_markingTimes</text>
<text x="2882.6 2895.8 2902.7 2910.6 2918.6 2926.3 2932 2940.6 2948.7 2957.5 2964 2972.6" y="1196">m_aggregates</text>
<text x="2910.1 2918.4 2927.5 2932.5 2937 2945.3" y="1225.9">buffer</text>
<text x="2910.3 2923.5 2929.8 2939.2 2945" y="1390.7">m_ptr</text>
<text x="3075 3088.2 3094.5 3102.7 3107.9 3116 3128.6 3132 3138.9 3146.8 3157.1 3164.6 3167.6 3170.5 3179.1 3186.9 3194.6" y="364.1">m_promiscCallback</text>
<text x="3095 3108.2 3114.7 3120.1 3127.8 3138.1 3145.6 3148.6 3151.5 3160.1 3167.9 3175.6" y="920.3">m_rxCallback</text>
<text x="3308.7 3321.9 3328.2 3337.6 3343.4" y="195.8">m_ptr</text>
<text x="3261.9 3275.1 3282.8 3289 3296.6 3302 3310.5 3318.8 3326.5 3329.6 3338.8 3344.8 3352.8 3361.5 3369.8 3377.5 3380.6 3389.8" y="672.7">m_txrxPointToPoint</text>
<text x="3300.7 3313.9 3320.7 3329.1 3337.3 3340.8 3348.8" y="769.1">m_delay</text>
<text x="3271.2 3284.4 3292.1 3297.9 3303.3 3311.1 3319.6 3328.3 3336.9 3345.2 3353 3361.6 3370 3378.6" y="813">m_traceEnqueue</text>
<text x="3282.7 3295.9 3303.6 3309.4 3314.8 3322.6 3331.1 3340.3 3350.4 3355.6 3363.2" y="830.3">m_traceDrop</text>
<text x="3267.7 3280.9 3288.6 3294.4 3299.8 3307.6 3316.1 3325.3 3336.1 3344.7 3352.5 3361.1 3369.5 3378.1" y="847.6">m_traceDequeue</text>
<text x="3308.7 3321.9 3328.2 3337.6 3343.4" y="1196">m_ptr</text>
<text x="3450.9 3464.1 3470.5 3473.5 3476.6 3484.5 3491.7 3501.6 3510 3517.6 3525.9 3534.3 3542.7 3553 3560.5 3563.5 3566.4 3575 3582.8 3590.5 3597.9" y="464.5">m_linkChangeCallbacks</text>
<text x="3673.5 3686.7 3693 3701.2 3709.6 3717.9 3727.6 3735.6 3744.2 3752.5 3760.4 3768.2 3773.6 3781.4 3789.9" y="555.6">m_phyRxEndTrace</text>
<text x="3655 3668.2 3675 3688.1 3695.9 3704.6 3712.7 3717.9 3726 3738.6 3742 3748.9 3757.4 3767.1 3774.9 3782.7 3788.1 3795.9 3804.4" y="572.9">m_macPromiscRxTrace</text>
<text x="3672.5 3685.7 3692 3700.2 3708.6 3716.4 3724.6 3732.6 3741.2 3749.5 3757.4 3765.2 3770.6 3778.4 3786.9" y="590.2">m_phyTxEndTrace</text>
<text x="3682.5 3695.7 3702.5 3715.6 3723.4 3731.4 3739.6 3747.4 3755.2 3760.6 3768.4 3776.9" y="607.5">m_macTxTrace</text>
<text x="3668 3681.2 3687.5 3695.7 3704.1 3712.4 3722.1 3730.6 3740.7 3745.9 3753.5 3761.9 3769.7 3775.1 3782.9 3791.4" y="624.9">m_phyRxDropTrace</text>
<text x="3666 3679.2 3685.5 3693.7 3702.1 3709.9 3718.1 3726.7 3736.4 3745 3752.6 3755.7 3763.9 3771.7 3777.1 3784.9 3793.4" y="642.2">m_phyTxBeginTrace</text>
<text x="3681.5 3694.7 3701.5 3714.6 3722.4 3730.9 3740.6 3748.4 3756.2 3761.6 3769.4 3777.9" y="659.5">m_macRxTrace</text>
<text x="3657.5 3670.7 3677 3685.2 3690.4 3698.5 3711.1 3714.5 3721.4 3729.2 3737.2 3745.1 3749.4 3754.4 3758.9 3767.2 3772.4 3780.2 3785.6 3793.4 3801.9" y="676.9">m_promiscSnifferTrace</text>
<text x="3669 3682.2 3688.5 3696.7 3705.1 3712.9 3721.1 3729.6 3739.7 3744.9 3752.5 3760.9 3768.7 3774.1 3781.9 3790.4" y="694.2">m_phyTxDropTrace</text>
<text x="3665 3678.2 3684.5 3692.7 3701.1 3709.4 3719.1 3727.7 3737.4 3746 3753.6 3756.7 3764.9 3772.7 3778.1 3785.9 3794.4" y="711.5">m_phyRxBeginTrace</text>
<text x="3728.4 3732.4 3736.4" y="728.9">...</text>
<text x="3672.7 3685.9 3693.6 3700.2 3703.4 3712.6 3719.1 3727.4 3733.6 3737.4 3742.8 3750.7 3764.1 3772.7 3782.8 3790.2" y="835.5">m_tInterframeGap</text>
<text x="3715.5 3728.7 3735 3744.4 3750.2" y="851.9">m_ptr</text>
<text x="3715.5 3728.7 3735 3744.4 3750.2" y="975.8">m_ptr</text>
<text x="3689.7 3702.9 3709.6 3717.5 3725.4 3730.4 3736.1 3744.4 3753.6 3760.3 3768.3 3776.6" y="1433.1">m_currentPkt</text>
<text x="3916.9 3930.1 3936.6 3944.8 3952.9 3961.3" y="328.1">m_node</text>
<text x="3870.9 3884.1 3890.6 3896.3 3904.8 3913.3 3921.5 3925 3933.3 3942 3950.6 3955.6 3960.8 3968.6 3974.6 3985.8 3993.9 4002.3 4010.5" y="1072.6">m_receiveErrorModel</text>
<text x="4087.7 4100.9 4107.2 4115.2 4123.7" y="285.2">m_bps</text>
<text x="4079 4092.2 4099 4106.8 4115.4 4123.8 4132.4" y="927.8">m_queue</text>
<text x="4073 4086.2 4092.9 4100.7 4109.1 4116.7 4124.7 4133.4 4141.6" y="964.8">m_channel</text>
<text x="4072.7 4085.9 4092.8 4100.7 4108.7 4116.4 4122.1 4130.7 4137.7" y="1246.9">m_address</text>
<text x="4259.1 4272.3 4278.7 4281.7 4284.8 4292.7" y="231.8">m_link</text>
<text x="4411.8 4425 4431.3 4440.7 4446.5" y="891.9">m_ptr</text>
<text x="4712.8 4726 4732.8 4739.5 4744.7" y="604.9">m_src</text>
<text x="4709.8 4723 4729.8 4737.8 4745.7" y="622.3">m_dst</text>
</g>
</svg>
</body></html>
